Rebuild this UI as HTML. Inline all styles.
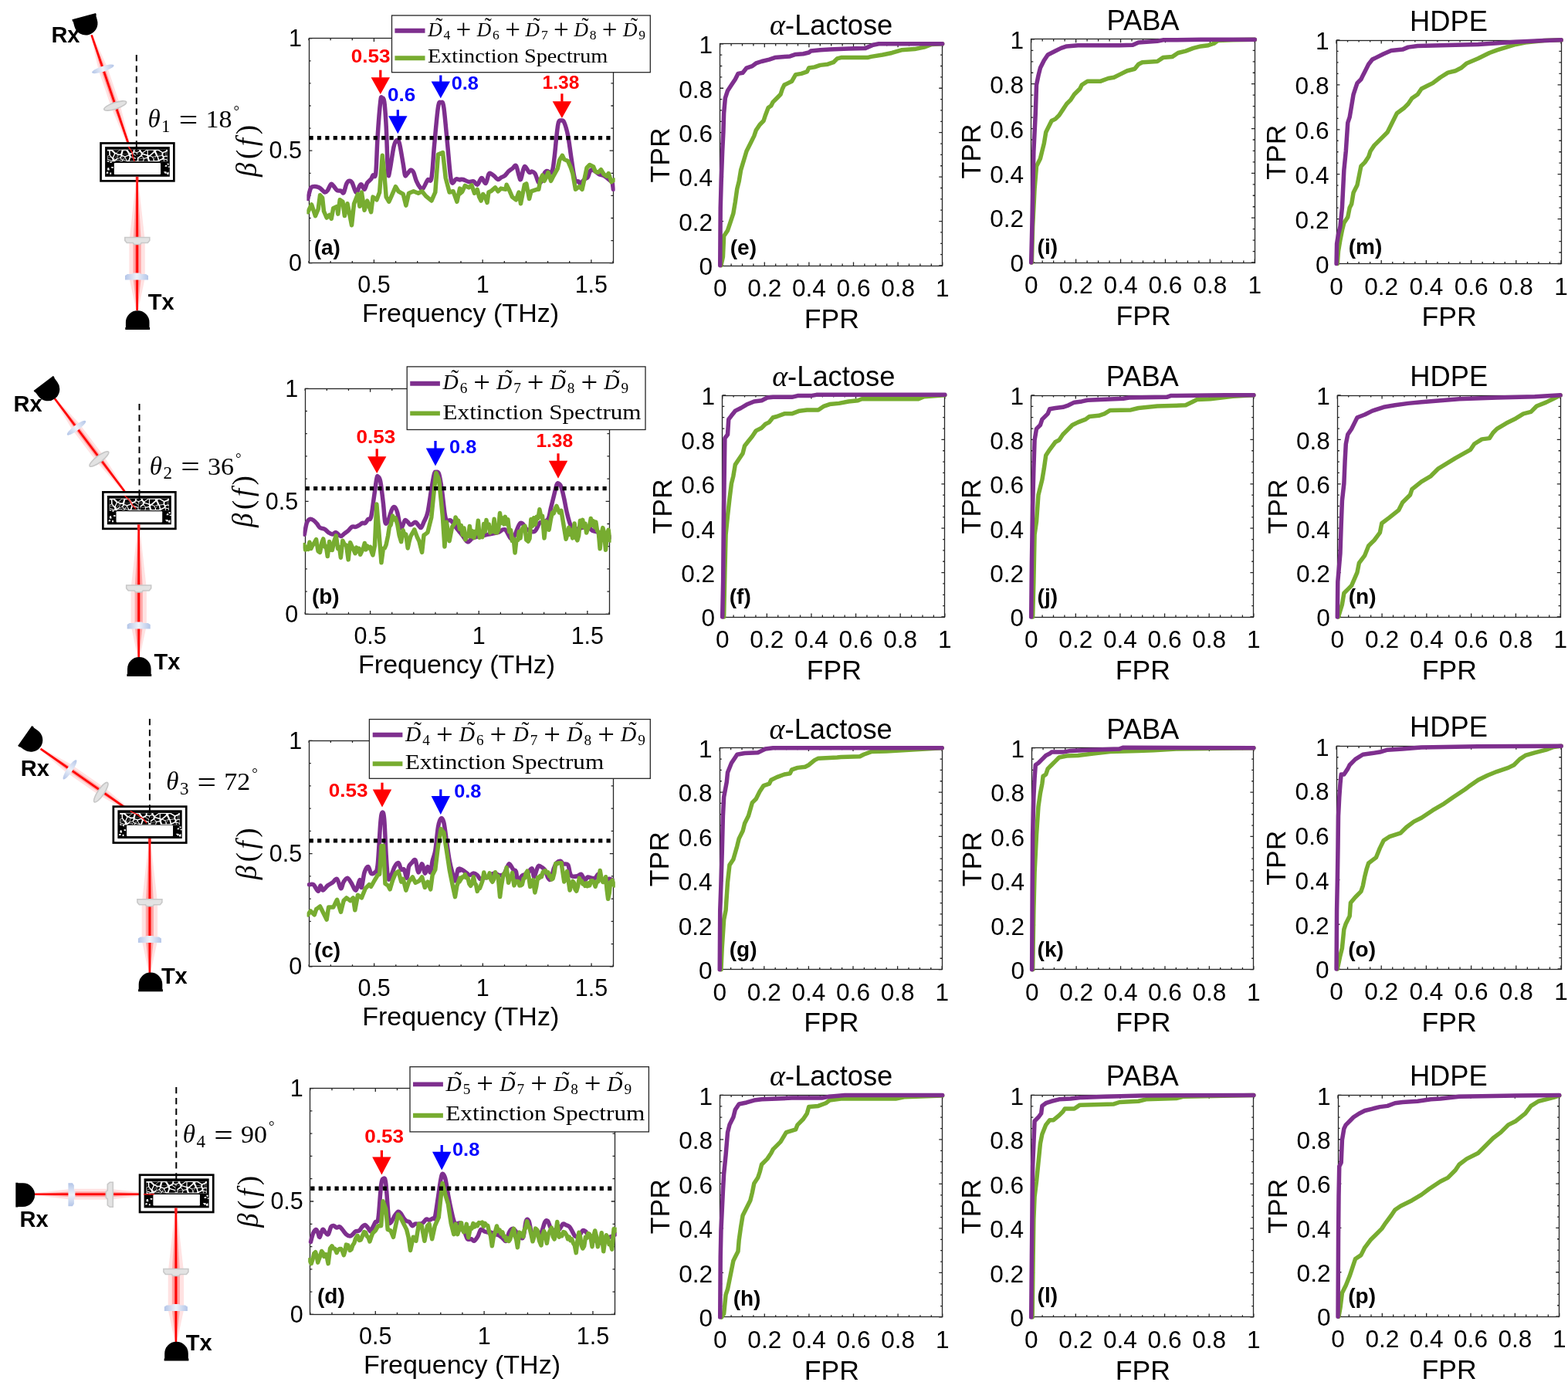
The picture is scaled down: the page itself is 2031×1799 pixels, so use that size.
<!DOCTYPE html>
<html><head><meta charset="utf-8"><title>Figure</title><style>
html,body{margin:0;padding:0;background:#fff;}
svg{display:block;}
.tk{font-family:'Liberation Sans', Arial, Helvetica, sans-serif;font-size:30.5px;fill:#000;}
.tk2{font-family:'Liberation Sans', Arial, Helvetica, sans-serif;font-size:31.6px;fill:#000;}
.lb2{font-family:'Liberation Sans', Arial, Helvetica, sans-serif;font-size:35.6px;fill:#000;}
.lb{font-family:'Liberation Sans', Arial, Helvetica, sans-serif;font-size:34.0px;fill:#000;}
.tt{font-family:'Liberation Sans', Arial, Helvetica, sans-serif;font-size:36.3px;fill:#000;}
.pl{font-family:'Liberation Sans', Arial, Helvetica, sans-serif;font-size:28px;font-weight:bold;fill:#000;}
.an{font-family:'Liberation Sans', Arial, Helvetica, sans-serif;font-size:24.3px;font-weight:bold;}
.rx{font-family:'Liberation Sans', Arial, Helvetica, sans-serif;font-size:29px;font-weight:bold;fill:#000;}
.mi{font-family:'Liberation Serif', 'Times New Roman', serif;font-style:italic;fill:#000;}
.lg{font-family:'Liberation Serif', 'Times New Roman', serif;fill:#000;}
.it{font-style:italic;}
.rm{font-style:normal;}
.th{font-family:'Liberation Serif', 'Times New Roman', serif;fill:#000;}
</style></head><body>
<svg width="2031" height="1799" viewBox="0 0 2031 1799">
<defs><linearGradient id="lensblue" x1="0" y1="0" x2="1" y2="0"><stop offset="0" stop-color="#b3c5e8"/><stop offset="0.5" stop-color="#eef2fa"/><stop offset="1" stop-color="#b3c5e8"/></linearGradient></defs>
<rect x="0" y="0" width="2031" height="1799" fill="#fff"/>
<line x1="176.8" y1="71" x2="176.8" y2="209" stroke="#000" stroke-width="2" stroke-dasharray="8.3 5.6"/>
<polygon points="117.37,45.72 127.62,90.63 144.28,139.83 165.9,190.58 169.3,189.42 155.64,135.98 138.98,86.79 119.83,44.88" fill="#ffe2e2" fill-opacity="1.0"/>
<polygon points="117.98,45.51 130.46,89.67 147.12,138.87 166.75,190.29 168.45,189.71 152.8,136.95 136.14,87.75 119.22,45.09" fill="#ffa8a8" fill-opacity="1.0"/>
<polygon points="118.3,45.4 131.94,89.17 148.6,138.37 167.19,190.14 168.01,189.86 151.32,137.45 134.66,88.25 118.9,45.2" fill="#ff7474" fill-opacity="1.0"/>
<line x1="118.6" y1="45.3" x2="167.6" y2="190" stroke="#ff0000" stroke-width="2.6"/>
<ellipse cx="0" cy="0" rx="15" ry="3.6" transform="translate(133.3 89.3) rotate(-18.5)" fill="url(#lensblue)"/>
<ellipse cx="0" cy="0" rx="15.2" ry="4.1" transform="translate(149.2 137) rotate(-18.5)" fill="#e2e2e2" stroke="#c6c6c6" stroke-width="1.6"/>
<polygon points="176,235 167.4,311.82 167.4,360.25 176.4,402 178.8,402 187.8,360.25 187.8,311.82 179.2,235" fill="#ffe2e2" fill-opacity="1.0"/>
<polygon points="176.8,235 172.5,311.82 172.5,360.25 177,402 178.2,402 182.7,360.25 182.7,311.82 178.4,235" fill="#ffa8a8" fill-opacity="1.0"/>
<polygon points="177.22,235 175.2,311.82 175.2,360.25 177.31,402 177.89,402 180,360.25 180,311.82 177.98,235" fill="#ff7474" fill-opacity="1.0"/>
<line x1="177.6" y1="235" x2="177.6" y2="402" stroke="#ff0000" stroke-width="2.6"/>
<path d="M-16 -4.5H16V-0.5L13.5 2.5H5.5L4 4.5H-4L-5.5 2.5H-13.5L-16 -0.5Z" transform="translate(177.8 312) rotate(0)" fill="#e3e3e3" stroke="#c9c9c9" stroke-width="1.6"/>
<path d="M-15 -1.5L-12 -3.5H-5.5L-4.5 -5H4.5L5.5 -3.5H12L15 -1.5V4H-15Z" transform="translate(177 358.6) rotate(0)" fill="url(#lensblue)"/>
<rect x="130.55" y="185.45" width="94.8" height="48.9" fill="#fff" stroke="#000" stroke-width="2.7"/>
<rect x="136.1" y="190.1" width="83.7" height="38.7" fill="#000"/>
<rect x="138.9" y="193.7" width="78.1" height="15.5" fill="#fff"/>
<path d="M156.78 206.38L157.62 206.98L158.1 207.41L157.39 208.77L156.79 208.77L155.05 207.7ZM209.76 198.05L204.64 195.04L202.39 195.04L202.17 196.77L203.48 199.23L209.48 199.3ZM155.84 204.83L156.47 206.09L154.73 207.41L150.57 207.22L152.19 206.07ZM213.76 195.64L215.35 194.59L215.35 193.87L205.61 193.87L210.73 196.88ZM174.37 196.36L174.55 194.13L180.14 194.13L180.36 195.77L177.11 197.05ZM184.89 200.2L190.01 201.7L190.76 202.39L190.3 203.86L186.71 204.64L183.98 201.92ZM201.39 201.94L201.88 201.62L201.35 200.03L200.04 197.56L195.14 201.77L197.97 203.11ZM182.9 199.24L177.95 200.02L177.51 201.73L178.29 203.89L182.08 201.21L182.99 199.49ZM158.64 199.23L159.92 195.05L163.36 195.05L166.43 199.46L166.42 199.49ZM156.09 201.04L153.58 201.02L151.8 205.27L155.45 204.03L156.52 201.83ZM145.84 203.72L144.7 202.9L142.94 200.65L142.71 195.47L144.31 195.47L147.98 199.01ZM197.41 203.95L194.58 202.6L193.33 202.96L192.87 204.43L194.2 208.14L198.58 208.14L198.49 206.4ZM169.35 200.22L169.36 200.19L171.9 199.32L175.94 202.13L176.73 204.29L176.55 204.73L169.99 202.63L169.2 200.97ZM152.98 200.85L152.23 200.63L148.14 206.06L148.34 206.74L149.59 206.25L151.21 205.1ZM206.16 206.87L204.96 202.67L209.68 202L210.71 203.22L210.39 205ZM163.49 208.55L159.47 207.74L159.16 207.81L158.45 209.16L164.4 209.16ZM169.44 203.85L176 205.94L176.04 206.19L176.02 208.47L167.78 208.47ZM158.29 200.19L158.72 200.99L158.83 201.04L162 202.16L166.25 200.54L166.4 199.8L158.62 199.55ZM187.06 205.77L190.64 204.99L191.98 208.7L186.08 208.7L186.91 205.94ZM185.91 205.73L185.08 208.49L179.39 208.49L179.4 206.2ZM182.63 195.55L184.47 197.42L189.39 193.92L182.41 193.92ZM158.22 202.27L159.26 204.82L160.02 205.47L161.43 204.34L161.38 203.39ZM161.81 204.67L163.71 207.79L159.68 206.98L160.4 205.81ZM157.97 202.34L159.01 204.89L158.26 206.35L157.43 205.75L156.79 204.49L157.86 202.29ZM166.89 201.74L167.68 203.4L166.02 208.03L165.48 208.03L164.58 207.42L162.68 204.3L162.64 203.35ZM147.12 204.13L149.27 199.42L150.09 199.57L151.95 200.47L147.86 205.9ZM150.53 197.9L154.72 194.2L146.03 194.2L149.71 197.74ZM216.27 209.03L213.06 209.03L212.53 206.58L216.27 207.52ZM214.6 197.09L214.64 201.67L212.34 202.24L211.31 201.03L211.3 199.59L211.58 198.33ZM156.1 199.4L153.59 199.39L152.84 199.17L150.99 198.27L155.18 194.57L157.72 194.57L156.44 198.75ZM145.62 207.3L145.42 206.61L144.69 204.84L143.55 204.02L139.39 204.2L139.39 205.8L145.33 207.98ZM150.53 207.92L149.28 208.42L148.99 209.1L148.98 209.18L156.44 209.18L154.69 208.11ZM191.8 200.33L192.55 201.03L193.8 200.67L198.7 196.46L198.92 194.73L191.85 194.73ZM201.67 202.51L199.33 206.14L198.24 203.69ZM139.37 202.49L141.77 201.3L143.52 203.55L139.37 203.72ZM183.28 202.41L186.02 205.13L185.87 205.3L179.36 205.77L179.31 205.53L179.49 205.09ZM144.87 208.87L138.93 206.69L138.93 208.95L144.86 208.95ZM180.91 196.75L182.76 198.62L182.84 198.97L177.89 199.75L177.66 198.03ZM185.28 198.22L185.36 198.58L185.46 198.83L190.58 200.33L190.63 194.72L190.2 194.72ZM215.16 201.67L216.71 201.75L216.71 196.04L215.12 197.09ZM159.12 204.93L158.37 206.39L158.86 206.82L159.16 206.76L159.88 205.58ZM204.59 207.19L203.39 202.98L202.62 202.4L202.13 202.73L199.79 206.35L199.88 208.09L204.03 208.09ZM209.47 199.6L203.47 199.53L204 201.12L204.77 201.7L209.49 201.04ZM211.69 206.7L211.26 206.38L207.03 208.26L206.47 209.16L212.22 209.16ZM138.94 201.9L138.94 195.52L141.12 195.52L141.35 200.7ZM173.99 197.43L176.73 198.12L176.96 199.84L176.52 201.55L172.47 198.73ZM212.88 205.58L216.62 206.52L216.62 202.98L215.07 202.91L212.77 203.48L212.45 205.26ZM168.5 198.44L165.44 194.03L172.73 194.03L172.55 196.25L171.04 197.56Z" fill="#000"/>
<path d="M139.53 217.19h1.74v1.91h-2.25zM138.49 208.32h2.67v1.39h-1.47zM144.07 215.95h2.67v1.71h-2.28zM139 218.7h2.74v1.78h-2.48zM142.13 209.17h2.52v1.89h-1.6zM138.29 222.55h1.95v2.08h-2.76zM142.38 223.48h1.79v2.2h-1.89zM217.41 222.78h1.19v1.2h-1.43zM217.59 215.38h2.25v1.45h-2.01zM214.12 213.96h2.17v1.88h-2.81zM215.89 223.61h2.71v2.49h-2.34zM212.78 222.47h2.93v2.36h-2.14zM216.08 211.63h2.66v1.86h-1.57zM212.18 222.36h2.98v1.13h-2.6z" fill="#fff"/>
<rect x="147.82" y="211" width="60.26" height="14.9" rx="1" fill="#fff"/>
<polyline points="166.5,190 171,197 172,203 174,209" fill="none" stroke="#ff1a1a" stroke-width="1.4"/>
<line x1="176.8" y1="186" x2="176.8" y2="209" stroke="#000" stroke-width="2" stroke-dasharray="8.3 5.6"/>
<line x1="177.6" y1="228.8" x2="177.6" y2="236" stroke="#ff2020" stroke-width="3.6"/>
<path d="M-15.3 0A15.3 15.3 0 0 1 15.3 0V6.5H15.9V9.5H-15.9V6.5H-15.3Z" transform="translate(111.2 30.2) rotate(165)" fill="#000"/>
<path d="M-15.3 0A15.3 15.3 0 0 1 15.3 0V6.5H15.9V9.5H-15.9V6.5H-15.3Z" transform="translate(178.2 417.6) rotate(0)" fill="#000"/>
<text x="66.4" y="54.9" class="rx">Rx</text>
<text x="191.8" y="401.2" class="rx">Tx</text>
<text x="191.4" y="165" class="th it" font-size="33">&#952;</text>
<text x="209.1" y="170.5" class="th" font-size="23">1</text>
<text x="231.8" y="167.8" class="th" font-size="37" textLength="24.5" lengthAdjust="spacingAndGlyphs">=</text>
<text x="266.5" y="165" class="th" font-size="32.5" textLength="34" lengthAdjust="spacingAndGlyphs">18</text>
<text x="302.5" y="150.2" class="th" font-size="19">&#176;</text>
<line x1="180.5" y1="523" x2="180.5" y2="660" stroke="#000" stroke-width="2" stroke-dasharray="8.3 5.6"/>
<polygon points="69.86,516.98 93.26,555.9 124.03,596.8 159.96,637.58 162.84,635.42 133.61,589.58 102.84,548.68 71.94,515.42" fill="#ffe2e2" fill-opacity="1.0"/>
<polygon points="70.38,516.59 95.65,554.09 126.42,595 160.68,637.04 162.12,635.96 131.22,591.39 100.45,550.49 71.42,515.81" fill="#ffa8a8" fill-opacity="1.0"/>
<polygon points="70.65,516.39 96.9,553.16 127.67,594.06 161.05,636.76 161.75,636.24 129.97,592.33 99.2,551.42 71.15,516.01" fill="#ff7474" fill-opacity="1.0"/>
<line x1="70.9" y1="516.2" x2="161.4" y2="636.5" stroke="#ff0000" stroke-width="2.6"/>
<ellipse cx="0" cy="0" rx="15" ry="3.6" transform="translate(99 554.2) rotate(-37)" fill="url(#lensblue)"/>
<ellipse cx="0" cy="0" rx="15.2" ry="4.1" transform="translate(128.4 594.5) rotate(-37)" fill="#e2e2e2" stroke="#c6c6c6" stroke-width="1.6"/>
<polygon points="178.1,686 169.5,762.13 169.5,810.12 178.5,851.5 180.9,851.5 189.9,810.12 189.9,762.13 181.3,686" fill="#ffe2e2" fill-opacity="1.0"/>
<polygon points="178.9,686 174.6,762.13 174.6,810.12 179.1,851.5 180.3,851.5 184.8,810.12 184.8,762.13 180.5,686" fill="#ffa8a8" fill-opacity="1.0"/>
<polygon points="179.32,686 177.3,762.13 177.3,810.12 179.41,851.5 179.99,851.5 182.1,810.12 182.1,762.13 180.08,686" fill="#ff7474" fill-opacity="1.0"/>
<line x1="179.7" y1="686" x2="179.7" y2="851.5" stroke="#ff0000" stroke-width="2.6"/>
<path d="M-16 -4.5H16V-0.5L13.5 2.5H5.5L4 4.5H-4L-5.5 2.5H-13.5L-16 -0.5Z" transform="translate(179.7 762.5) rotate(0)" fill="#e3e3e3" stroke="#c9c9c9" stroke-width="1.6"/>
<path d="M-15 -1.5L-12 -3.5H-5.5L-4.5 -5H4.5L5.5 -3.5H12L15 -1.5V4H-15Z" transform="translate(179.7 810.5) rotate(0)" fill="url(#lensblue)"/>
<rect x="133.35" y="637.35" width="94" height="47.5" fill="#fff" stroke="#000" stroke-width="2.7"/>
<rect x="138.9" y="642" width="82.9" height="37.3" fill="#000"/>
<rect x="141.7" y="645.6" width="77.3" height="15.5" fill="#fff"/>
<path d="M159.4 658.28L160.23 658.88L160.7 659.31L160 660.67L159.41 660.67L157.68 659.6ZM211.83 649.95L206.76 646.94L204.54 646.94L204.32 648.67L205.62 651.13L211.56 651.2ZM158.46 656.73L159.09 657.99L157.37 659.31L153.25 659.12L154.85 657.97ZM215.79 647.54L217.36 646.49L217.36 645.77L207.73 645.77L212.8 648.78ZM176.81 648.26L176.98 646.03L182.52 646.03L182.74 647.67L179.52 648.95ZM187.22 652.1L192.29 653.6L193.02 654.29L192.57 655.76L189.02 656.54L186.31 653.82ZM203.55 653.84L204.03 653.52L203.51 651.93L202.22 649.46L197.36 653.67L200.16 655.01ZM185.25 651.14L180.35 651.92L179.92 653.63L180.69 655.79L184.44 653.11L185.34 651.39ZM161.24 651.13L162.51 646.95L165.91 646.95L168.95 651.36L168.94 651.39ZM158.71 652.94L156.23 652.92L154.47 657.17L158.08 655.93L159.14 653.73ZM148.57 655.62L147.44 654.8L145.7 652.55L145.47 647.37L147.05 647.37L150.69 650.91ZM199.61 655.85L196.81 654.5L195.57 654.86L195.12 656.33L196.44 660.04L200.77 660.04L200.68 658.3ZM171.84 652.12L171.85 652.09L174.36 651.22L178.37 654.03L179.14 656.19L178.96 656.63L172.47 654.53L171.69 652.87ZM155.64 652.75L154.9 652.53L150.85 657.96L151.05 658.64L152.28 658.15L153.88 657ZM208.27 658.77L207.08 654.57L211.75 653.9L212.77 655.12L212.46 656.9ZM166.04 660.45L162.06 659.64L161.75 659.71L161.05 661.06L166.94 661.06ZM171.93 655.75L178.42 657.84L178.46 658.09L178.44 660.37L170.28 660.37ZM160.89 652.09L161.32 652.89L161.43 652.94L164.56 654.06L168.77 652.44L168.92 651.7L161.22 651.45ZM189.36 657.67L192.91 656.89L194.23 660.6L188.39 660.6L189.22 657.84ZM188.23 657.63L187.41 660.39L181.77 660.39L181.79 658.1ZM184.98 647.45L186.81 649.32L191.67 645.82L184.76 645.82ZM160.82 654.17L161.85 656.72L162.6 657.37L163.99 656.24L163.95 655.29ZM164.37 656.57L166.25 659.69L162.27 658.88L162.98 657.71ZM160.57 654.24L161.6 656.79L160.86 658.25L160.04 657.65L159.4 656.39L160.46 654.19ZM169.41 653.64L170.18 655.3L168.54 659.93L168.01 659.93L167.12 659.32L165.24 656.2L165.19 655.25ZM149.84 656.03L151.96 651.32L152.78 651.47L154.61 652.37L150.56 657.8ZM153.21 649.8L157.36 646.1L148.76 646.1L152.4 649.64ZM218.28 660.93L215.1 660.93L214.57 658.48L218.28 659.42ZM216.63 648.99L216.67 653.57L214.39 654.14L213.37 652.93L213.36 651.49L213.63 650.23ZM158.73 651.3L156.24 651.29L155.5 651.07L153.67 650.17L157.81 646.47L160.33 646.47L159.06 650.65ZM148.35 659.2L148.16 658.51L147.43 656.74L146.3 655.92L142.19 656.1L142.19 657.7L148.06 659.88ZM153.21 659.82L151.97 660.32L151.68 661L151.68 661.08L159.06 661.08L157.33 660.01ZM194.06 652.23L194.8 652.93L196.03 652.57L200.89 648.36L201.1 646.63L194.11 646.63ZM203.82 654.41L201.51 658.04L200.44 655.59ZM142.16 654.39L144.54 653.2L146.28 655.45L142.16 655.62ZM185.63 654.31L188.34 657.03L188.19 657.2L181.74 657.67L181.7 657.43L181.88 656.99ZM147.61 660.77L141.73 658.59L141.73 660.85L147.6 660.85ZM183.28 648.65L185.11 650.52L185.19 650.87L180.29 651.65L180.07 649.93ZM187.61 650.12L187.68 650.48L187.78 650.73L192.85 652.23L192.9 646.62L192.47 646.62ZM217.18 653.57L218.71 653.65L218.71 647.94L217.14 648.99ZM161.71 656.83L160.97 658.29L161.45 658.72L161.75 658.66L162.46 657.48ZM206.72 659.09L205.53 654.88L204.77 654.3L204.28 654.63L201.97 658.25L202.06 659.99L206.16 659.99ZM211.55 651.5L205.61 651.43L206.13 653.02L206.89 653.6L211.56 652.94ZM213.75 658.6L213.32 658.28L209.13 660.16L208.58 661.06L214.27 661.06ZM141.74 653.8L141.74 647.42L143.89 647.42L144.12 652.6ZM176.43 649.33L179.14 650.02L179.37 651.74L178.93 653.45L174.93 650.63ZM214.93 657.48L218.63 658.42L218.63 654.88L217.09 654.81L214.81 655.38L214.5 657.16ZM171 650.34L167.97 645.93L175.18 645.93L175.01 648.15L173.51 649.46Z" fill="#000"/>
<path d="M142.33 668.33h1.74v1.91h-2.25zM141.29 660.2h2.67v1.39h-1.47zM146.87 667.2h2.67v1.71h-2.28zM141.8 669.71h2.74v1.78h-2.48zM144.93 660.98h2.52v1.89h-1.6zM141.09 673.24h1.95v2.08h-2.76zM145.18 674.09h1.79v2.2h-1.89zM219.41 673.45h1.19v1.2h-1.43zM219.59 666.67h2.25v1.45h-2.01zM216.12 665.37h2.17v1.88h-2.81zM217.89 674.21h2.71v2.49h-2.34zM214.78 673.17h2.93v2.36h-2.14zM218.08 663.23h2.66v1.86h-1.57zM214.18 673.07h2.98v1.13h-2.6z" fill="#fff"/>
<rect x="150.51" y="662.14" width="59.69" height="14.26" rx="1" fill="#fff"/>
<polyline points="161.4,642 168,648 172,655 176,659" fill="none" stroke="#ff1a1a" stroke-width="1.4"/>
<line x1="180.5" y1="638" x2="180.5" y2="660" stroke="#000" stroke-width="2" stroke-dasharray="8.3 5.6"/>
<line x1="179.7" y1="679.3" x2="179.7" y2="686.5" stroke="#ff2020" stroke-width="3.6"/>
<path d="M-15.3 0A15.3 15.3 0 0 1 15.3 0V6.5H15.9V9.5H-15.9V6.5H-15.3Z" transform="translate(62 504) rotate(143)" fill="#000"/>
<path d="M-15.3 0A15.3 15.3 0 0 1 15.3 0V6.5H15.9V9.5H-15.9V6.5H-15.3Z" transform="translate(180.3 866.4) rotate(0)" fill="#000"/>
<text x="17.6" y="533.4" class="rx">Rx</text>
<text x="199.6" y="867.2" class="rx">Tx</text>
<text x="193.8" y="614.5" class="th it" font-size="33">&#952;</text>
<text x="211.5" y="620" class="th" font-size="23">2</text>
<text x="234.2" y="617.3" class="th" font-size="37" textLength="24.5" lengthAdjust="spacingAndGlyphs">=</text>
<text x="268.9" y="614.5" class="th" font-size="32.5" textLength="34" lengthAdjust="spacingAndGlyphs">36</text>
<text x="304.9" y="599.7" class="th" font-size="19">&#176;</text>
<line x1="193.9" y1="931" x2="193.9" y2="1066" stroke="#000" stroke-width="2" stroke-dasharray="8.3 5.6"/>
<polygon points="51.86,970.97 84.01,999.04 128.12,1029.7 167.67,1052.08 169.73,1049.12 134.97,1019.85 90.85,989.18 53.34,968.83" fill="#ffe2e2" fill-opacity="1.0"/>
<polygon points="52.23,970.43 85.72,996.57 129.84,1027.24 168.19,1051.34 169.21,1049.86 133.26,1022.31 89.14,991.65 52.97,969.37" fill="#ffa8a8" fill-opacity="1.0"/>
<polygon points="52.42,970.16 86.61,995.29 130.73,1025.96 168.45,1050.95 168.95,1050.25 132.37,1023.59 88.25,992.93 52.78,969.64" fill="#ff7474" fill-opacity="1.0"/>
<line x1="52.6" y1="969.9" x2="168.7" y2="1050.6" stroke="#ff0000" stroke-width="2.6"/>
<ellipse cx="0" cy="0" rx="15" ry="3.6" transform="translate(90.5 996.8) rotate(-56)" fill="url(#lensblue)"/>
<ellipse cx="0" cy="0" rx="15.2" ry="4.1" transform="translate(130.8 1026.2) rotate(-56)" fill="#e2e2e2" stroke="#c6c6c6" stroke-width="1.6"/>
<polygon points="192.3,1092.5 183.7,1169.55 183.7,1218.12 192.7,1260 195.1,1260 204.1,1218.12 204.1,1169.55 195.5,1092.5" fill="#ffe2e2" fill-opacity="1.0"/>
<polygon points="193.1,1092.5 188.8,1169.55 188.8,1218.12 193.3,1260 194.5,1260 199,1218.12 199,1169.55 194.7,1092.5" fill="#ffa8a8" fill-opacity="1.0"/>
<polygon points="193.52,1092.5 191.5,1169.55 191.5,1218.12 193.61,1260 194.19,1260 196.3,1218.12 196.3,1169.55 194.28,1092.5" fill="#ff7474" fill-opacity="1.0"/>
<line x1="193.9" y1="1092.5" x2="193.9" y2="1260" stroke="#ff0000" stroke-width="2.6"/>
<path d="M-16 -4.5H16V-0.5L13.5 2.5H5.5L4 4.5H-4L-5.5 2.5H-13.5L-16 -0.5Z" transform="translate(193.9 1169.2) rotate(0)" fill="#e3e3e3" stroke="#c9c9c9" stroke-width="1.6"/>
<path d="M-15 -1.5L-12 -3.5H-5.5L-4.5 -5H4.5L5.5 -3.5H12L15 -1.5V4H-15Z" transform="translate(193.9 1216.9) rotate(0)" fill="url(#lensblue)"/>
<rect x="146.85" y="1044.65" width="94.4" height="46.9" fill="#fff" stroke="#000" stroke-width="2.7"/>
<rect x="152.4" y="1049.3" width="83.3" height="36.7" fill="#000"/>
<rect x="155.2" y="1052.9" width="77.7" height="15.5" fill="#fff"/>
<path d="M172.99 1065.58L173.82 1066.18L174.3 1066.61L173.6 1067.97L173 1067.97L171.26 1066.9ZM225.7 1057.25L220.6 1054.24L218.36 1054.24L218.15 1055.97L219.45 1058.43L225.42 1058.5ZM172.05 1064.03L172.68 1065.29L170.95 1066.61L166.81 1066.42L168.42 1065.27ZM229.67 1054.84L231.26 1053.79L231.26 1053.07L221.57 1053.07L226.67 1056.08ZM190.49 1055.56L190.66 1053.33L196.23 1053.33L196.45 1054.97L193.22 1056.25ZM200.95 1059.4L206.05 1060.9L206.79 1061.59L206.33 1063.06L202.77 1063.84L200.04 1061.12ZM217.37 1061.14L217.85 1060.82L217.33 1059.23L216.03 1056.76L211.15 1060.97L213.97 1062.31ZM198.97 1058.44L194.05 1059.22L193.61 1060.93L194.39 1063.09L198.16 1060.41L199.07 1058.69ZM174.84 1058.43L176.11 1054.25L179.54 1054.25L182.59 1058.66L182.58 1058.69ZM172.3 1060.24L169.8 1060.22L168.04 1064.47L171.66 1063.23L172.73 1061.03ZM162.1 1062.92L160.97 1062.1L159.22 1059.85L158.99 1054.67L160.58 1054.67L164.24 1058.21ZM213.41 1063.15L210.6 1061.8L209.35 1062.16L208.89 1063.63L210.22 1067.34L214.58 1067.34L214.49 1065.6ZM185.5 1059.42L185.51 1059.39L188.03 1058.52L192.06 1061.33L192.83 1063.49L192.65 1063.93L186.13 1061.83L185.35 1060.17ZM169.21 1060.05L168.46 1059.83L164.4 1065.26L164.59 1065.94L165.83 1065.45L167.44 1064.3ZM222.12 1066.07L220.92 1061.87L225.62 1061.2L226.64 1062.42L226.33 1064.2ZM179.67 1067.75L175.66 1066.94L175.36 1067.01L174.65 1068.36L180.57 1068.36ZM185.58 1063.05L192.11 1065.14L192.15 1065.39L192.13 1067.67L183.93 1067.67ZM174.49 1059.39L174.92 1060.19L175.03 1060.24L178.18 1061.36L182.41 1059.74L182.56 1059L174.82 1058.75ZM203.11 1064.97L206.68 1064.19L208.01 1067.9L202.13 1067.9L202.96 1065.14ZM201.97 1064.93L201.14 1067.69L195.48 1067.69L195.49 1065.4ZM198.7 1054.75L200.54 1056.62L205.43 1053.12L198.48 1053.12ZM174.42 1061.47L175.45 1064.02L176.21 1064.67L177.61 1063.54L177.57 1062.59ZM177.99 1063.87L179.88 1066.99L175.87 1066.18L176.59 1065.01ZM174.17 1061.54L175.21 1064.09L174.46 1065.55L173.63 1064.95L173 1063.69L174.06 1061.49ZM183.05 1060.94L183.83 1062.6L182.18 1067.23L181.65 1067.23L180.75 1066.62L178.86 1063.5L178.82 1062.55ZM163.38 1063.33L165.52 1058.62L166.33 1058.77L168.18 1059.67L164.11 1065.1ZM166.77 1057.1L170.94 1053.4L162.3 1053.4L165.95 1056.94ZM232.17 1068.23L228.98 1068.23L228.45 1065.78L232.17 1066.72ZM230.52 1056.29L230.55 1060.87L228.26 1061.44L227.24 1060.23L227.23 1058.79L227.51 1057.53ZM172.32 1058.6L169.82 1058.59L169.07 1058.37L167.23 1057.47L171.4 1053.77L173.92 1053.77L172.65 1057.95ZM161.89 1066.5L161.69 1065.81L160.96 1064.04L159.83 1063.22L155.69 1063.4L155.69 1065L161.59 1067.18ZM166.77 1067.12L165.53 1067.62L165.24 1068.3L165.23 1068.38L172.65 1068.38L170.91 1067.31ZM207.83 1059.53L208.57 1060.23L209.82 1059.87L214.7 1055.66L214.91 1053.93L207.88 1053.93ZM217.64 1061.71L215.32 1065.34L214.24 1062.89ZM155.66 1061.69L158.05 1060.5L159.8 1062.75L155.66 1062.92ZM199.36 1061.61L202.08 1064.33L201.93 1064.5L195.45 1064.97L195.41 1064.73L195.59 1064.29ZM161.14 1068.07L155.23 1065.89L155.23 1068.15L161.13 1068.15ZM197 1055.95L198.83 1057.82L198.91 1058.17L193.99 1058.95L193.76 1057.23ZM201.34 1057.42L201.42 1057.78L201.52 1058.03L206.61 1059.53L206.67 1053.92L206.23 1053.92ZM231.07 1060.87L232.61 1060.95L232.61 1055.24L231.03 1056.29ZM175.32 1064.13L174.57 1065.59L175.05 1066.02L175.36 1065.96L176.07 1064.78ZM220.55 1066.39L219.36 1062.18L218.59 1061.6L218.11 1061.93L215.78 1065.55L215.87 1067.29L220 1067.29ZM225.41 1058.8L219.44 1058.73L219.97 1060.32L220.73 1060.9L225.43 1060.24ZM227.62 1065.9L227.19 1065.58L222.98 1067.46L222.43 1068.36L228.15 1068.36ZM155.24 1061.1L155.24 1054.72L157.41 1054.72L157.63 1059.9ZM190.11 1056.63L192.83 1057.32L193.06 1059.04L192.62 1060.75L188.6 1057.93ZM228.81 1064.78L232.53 1065.72L232.53 1062.18L230.98 1062.11L228.69 1062.68L228.38 1064.46ZM184.65 1057.64L181.6 1053.23L188.86 1053.23L188.68 1055.45L187.17 1056.76Z" fill="#000"/>
<path d="M155.83 1075.3h1.74v1.91h-2.25zM154.79 1067.49h2.67v1.39h-1.47zM160.37 1074.21h2.67v1.71h-2.28zM155.3 1076.63h2.74v1.78h-2.48zM158.43 1068.24h2.52v1.89h-1.6zM154.59 1080.02h1.95v2.08h-2.76zM158.68 1080.84h1.79v2.2h-1.89zM233.31 1080.22h1.19v1.2h-1.43zM233.49 1073.71h2.25v1.45h-2.01zM230.02 1072.46h2.17v1.88h-2.81zM231.79 1080.96h2.71v2.49h-2.34zM228.68 1079.95h2.93v2.36h-2.14zM231.98 1070.4h2.66v1.86h-1.57zM228.08 1079.85h2.98v1.13h-2.6z" fill="#fff"/>
<rect x="164.06" y="1069.12" width="59.98" height="13.98" rx="1" fill="#fff"/>
<polyline points="168.7,1050.6 178,1055 186,1061 190,1066" fill="none" stroke="#ff1a1a" stroke-width="1.4"/>
<line x1="193.9" y1="1045" x2="193.9" y2="1066" stroke="#000" stroke-width="2" stroke-dasharray="8.3 5.6"/>
<line x1="193.9" y1="1086" x2="193.9" y2="1093.2" stroke="#ff2020" stroke-width="3.6"/>
<path d="M-15.3 0A15.3 15.3 0 0 1 15.3 0V6.5H15.9V9.5H-15.9V6.5H-15.3Z" transform="translate(40 958.5) rotate(125)" fill="#000"/>
<path d="M-15.3 0A15.3 15.3 0 0 1 15.3 0V6.5H15.9V9.5H-15.9V6.5H-15.3Z" transform="translate(195 1274.8) rotate(0)" fill="#000"/>
<text x="26.7" y="1005.4" class="rx">Rx</text>
<text x="208.9" y="1274.4" class="rx">Tx</text>
<text x="215.2" y="1023" class="th it" font-size="33">&#952;</text>
<text x="232.9" y="1028.5" class="th" font-size="23">3</text>
<text x="255.6" y="1025.8" class="th" font-size="37" textLength="24.5" lengthAdjust="spacingAndGlyphs">=</text>
<text x="290.3" y="1023" class="th" font-size="32.5" textLength="34" lengthAdjust="spacingAndGlyphs">72</text>
<text x="326.3" y="1008.2" class="th" font-size="19">&#176;</text>
<line x1="228.3" y1="1408" x2="228.3" y2="1545" stroke="#000" stroke-width="2" stroke-dasharray="8.3 5.6"/>
<polygon points="44.5,1548 92.52,1553.8 141.99,1553.8 190,1548.3 190,1545.3 141.99,1539.8 92.52,1539.8 44.5,1545.6" fill="#ffe2e2" fill-opacity="1.0"/>
<polygon points="44.5,1547.4 92.52,1550.3 141.99,1550.3 190,1547.55 190,1546.05 141.99,1543.3 92.52,1543.3 44.5,1546.2" fill="#ffa8a8" fill-opacity="1.0"/>
<polygon points="44.5,1547.09 92.52,1548.48 141.99,1548.48 190,1547.16 190,1546.44 141.99,1545.12 92.52,1545.12 44.5,1546.51" fill="#ff7474" fill-opacity="1.0"/>
<line x1="44.5" y1="1546.8" x2="190" y2="1546.8" stroke="#ff0000" stroke-width="2.6"/>
<path d="M-15 -1.5L-12 -3.5H-5.5L-4.5 -5H4.5L5.5 -3.5H12L15 -1.5V4H-15Z" transform="translate(92.4 1547.3) rotate(90)" fill="url(#lensblue)"/>
<path d="M-16 -4.5H16V-0.5L13.5 2.5H5.5L4 4.5H-4L-5.5 2.5H-13.5L-16 -0.5Z" transform="translate(141.8 1547.3) rotate(90)" fill="#e3e3e3" stroke="#c9c9c9" stroke-width="1.6"/>
<polygon points="226.3,1571 217.7,1648.05 217.7,1696.62 226.7,1738.5 229.1,1738.5 238.1,1696.62 238.1,1648.05 229.5,1571" fill="#ffe2e2" fill-opacity="1.0"/>
<polygon points="227.1,1571 222.8,1648.05 222.8,1696.62 227.3,1738.5 228.5,1738.5 233,1696.62 233,1648.05 228.7,1571" fill="#ffa8a8" fill-opacity="1.0"/>
<polygon points="227.52,1571 225.5,1648.05 225.5,1696.62 227.61,1738.5 228.19,1738.5 230.3,1696.62 230.3,1648.05 228.28,1571" fill="#ff7474" fill-opacity="1.0"/>
<line x1="227.9" y1="1571" x2="227.9" y2="1738.5" stroke="#ff0000" stroke-width="2.6"/>
<path d="M-16 -4.5H16V-0.5L13.5 2.5H5.5L4 4.5H-4L-5.5 2.5H-13.5L-16 -0.5Z" transform="translate(227.9 1648) rotate(0)" fill="#e3e3e3" stroke="#c9c9c9" stroke-width="1.6"/>
<path d="M-15 -1.5L-12 -3.5H-5.5L-4.5 -5H4.5L5.5 -3.5H12L15 -1.5V4H-15Z" transform="translate(227.9 1694) rotate(0)" fill="url(#lensblue)"/>
<rect x="181.05" y="1521.75" width="95.2" height="48.2" fill="#fff" stroke="#000" stroke-width="2.7"/>
<rect x="186.6" y="1526.4" width="84.1" height="38" fill="#000"/>
<rect x="189.4" y="1530" width="78.5" height="15.5" fill="#fff"/>
<path d="M207.38 1542.68L208.21 1543.28L208.7 1543.71L207.99 1545.07L207.38 1545.07L205.63 1544ZM260.62 1534.35L255.47 1531.34L253.21 1531.34L253 1533.07L254.31 1535.53L260.34 1535.6ZM206.42 1541.13L207.06 1542.39L205.32 1543.71L201.13 1543.52L202.76 1542.37ZM264.64 1531.94L266.24 1530.89L266.24 1530.17L256.45 1530.17L261.6 1533.18ZM225.05 1532.66L225.23 1530.43L230.85 1530.43L231.07 1532.07L227.81 1533.35ZM235.62 1536.5L240.77 1538L241.52 1538.69L241.06 1540.16L237.46 1540.94L234.71 1538.22ZM252.21 1538.24L252.7 1537.92L252.17 1536.33L250.86 1533.86L245.93 1538.07L248.77 1539.41ZM233.62 1535.54L228.65 1536.32L228.21 1538.03L228.99 1540.19L232.8 1537.51L233.72 1535.79ZM209.24 1535.53L210.53 1531.35L213.99 1531.35L217.07 1535.76L217.06 1535.79ZM206.68 1537.34L204.15 1537.32L202.37 1541.57L206.03 1540.33L207.11 1538.13ZM196.37 1540.02L195.23 1539.2L193.46 1536.95L193.23 1531.77L194.84 1531.77L198.53 1535.31ZM248.21 1540.25L245.37 1538.9L244.11 1539.26L243.65 1540.73L244.99 1544.44L249.39 1544.44L249.3 1542.7ZM220.01 1536.52L220.02 1536.49L222.57 1535.62L226.63 1538.43L227.42 1540.59L227.24 1541.03L220.65 1538.93L219.86 1537.27ZM203.55 1537.15L202.8 1536.93L198.69 1542.36L198.89 1543.04L200.14 1542.55L201.77 1541.4ZM257.01 1543.17L255.8 1538.97L260.54 1538.3L261.58 1539.52L261.26 1541.3ZM214.12 1544.85L210.07 1544.04L209.76 1544.11L209.05 1545.46L215.03 1545.46ZM220.09 1540.15L226.69 1542.24L226.73 1542.49L226.71 1544.77L218.43 1544.77ZM208.89 1536.49L209.32 1537.29L209.43 1537.34L212.62 1538.46L216.89 1536.84L217.04 1536.1L209.22 1535.85ZM237.8 1542.07L241.41 1541.29L242.75 1545L236.82 1545L237.65 1542.24ZM236.65 1542.03L235.82 1544.79L230.09 1544.79L230.11 1542.5ZM233.35 1531.85L235.21 1533.72L240.14 1530.22L233.13 1530.22ZM208.82 1538.57L209.86 1541.12L210.62 1541.77L212.04 1540.64L212 1539.69ZM212.43 1540.97L214.33 1544.09L210.29 1543.28L211.01 1542.11ZM208.57 1538.64L209.61 1541.19L208.86 1542.65L208.02 1542.05L207.38 1540.79L208.45 1538.59ZM217.54 1538.04L218.33 1539.7L216.66 1544.33L216.12 1544.33L215.21 1543.72L213.3 1540.6L213.26 1539.65ZM197.67 1540.43L199.82 1535.72L200.65 1535.87L202.51 1536.77L198.4 1542.2ZM201.09 1534.2L205.3 1530.5L196.57 1530.5L200.26 1534.04ZM267.16 1545.33L263.94 1545.33L263.4 1542.88L267.16 1543.82ZM265.49 1533.39L265.53 1537.97L263.22 1538.54L262.18 1537.33L262.17 1535.89L262.45 1534.63ZM206.69 1535.7L204.17 1535.69L203.42 1535.47L201.55 1534.57L205.76 1530.87L208.32 1530.87L207.03 1535.05ZM196.16 1543.6L195.96 1542.91L195.22 1541.14L194.07 1540.32L189.9 1540.5L189.9 1542.1L195.86 1544.28ZM201.09 1544.22L199.83 1544.72L199.54 1545.4L199.53 1545.48L207.03 1545.48L205.27 1544.41ZM242.57 1536.63L243.32 1537.33L244.58 1536.97L249.51 1532.76L249.73 1531.03L242.62 1531.03ZM252.49 1538.81L250.14 1542.44L249.05 1539.99ZM189.87 1538.79L192.28 1537.6L194.05 1539.85L189.87 1540.02ZM234.01 1538.71L236.76 1541.43L236.61 1541.6L230.06 1542.07L230.02 1541.83L230.2 1541.39ZM195.4 1545.17L189.43 1542.99L189.43 1545.25L195.39 1545.25ZM231.63 1533.05L233.48 1534.92L233.56 1535.27L228.59 1536.05L228.36 1534.33ZM236.02 1534.52L236.1 1534.88L236.19 1535.13L241.34 1536.63L241.4 1531.02L240.96 1531.02ZM266.05 1537.97L267.61 1538.05L267.61 1532.34L266.01 1533.39ZM209.72 1541.23L208.97 1542.69L209.46 1543.12L209.77 1543.06L210.49 1541.88ZM255.43 1543.49L254.22 1539.28L253.45 1538.7L252.96 1539.03L250.61 1542.65L250.7 1544.39L254.87 1544.39ZM260.34 1535.9L254.3 1535.83L254.83 1537.42L255.61 1538L260.35 1537.34ZM262.56 1543L262.13 1542.68L257.88 1544.56L257.32 1545.46L263.1 1545.46ZM189.45 1538.2L189.45 1531.82L191.63 1531.82L191.86 1537ZM224.67 1533.73L227.42 1534.42L227.65 1536.14L227.21 1537.85L223.14 1535.03ZM263.76 1541.88L267.52 1542.82L267.52 1539.28L265.96 1539.21L263.65 1539.78L263.33 1541.56ZM219.16 1534.74L216.07 1530.33L223.4 1530.33L223.23 1532.55L221.7 1533.86Z" fill="#000"/>
<path d="M190.03 1553.11h1.74v1.91h-2.25zM188.99 1544.61h2.67v1.39h-1.47zM194.57 1551.92h2.67v1.71h-2.28zM189.5 1554.56h2.74v1.78h-2.48zM192.63 1545.42h2.52v1.89h-1.6zM188.79 1558.25h1.95v2.08h-2.76zM192.88 1559.14h1.79v2.2h-1.89zM268.31 1558.46h1.19v1.2h-1.43zM268.49 1551.38h2.25v1.45h-2.01zM265.02 1550.01h2.17v1.88h-2.81zM266.79 1559.26h2.71v2.49h-2.34zM263.68 1558.17h2.93v2.36h-2.14zM266.98 1547.78h2.66v1.86h-1.57zM263.08 1558.06h2.98v1.13h-2.6z" fill="#fff"/>
<rect x="198.37" y="1546.92" width="60.55" height="14.58" rx="1" fill="#fff"/>
<polyline points="186,1546.8 200,1546.8" fill="none" stroke="#ff1a1a" stroke-width="1.4"/>
<line x1="228.3" y1="1522" x2="228.3" y2="1545" stroke="#000" stroke-width="2" stroke-dasharray="8.3 5.6"/>
<line x1="227.9" y1="1564.4" x2="227.9" y2="1571.6" stroke="#ff2020" stroke-width="3.6"/>
<path d="M-15.3 0A15.3 15.3 0 0 1 15.3 0V6.5H15.9V9.5H-15.9V6.5H-15.3Z" transform="translate(29.8 1547.6) rotate(90)" fill="#000"/>
<path d="M-15.3 0A15.3 15.3 0 0 1 15.3 0V6.5H15.9V9.5H-15.9V6.5H-15.3Z" transform="translate(228.5 1753) rotate(0)" fill="#000"/>
<text x="25.5" y="1588.9" class="rx">Rx</text>
<text x="240.7" y="1749.1" class="rx">Tx</text>
<text x="236.8" y="1480" class="th it" font-size="33">&#952;</text>
<text x="254.5" y="1485.5" class="th" font-size="23">4</text>
<text x="277.2" y="1482.8" class="th" font-size="37" textLength="24.5" lengthAdjust="spacingAndGlyphs">=</text>
<text x="311.9" y="1480" class="th" font-size="32.5" textLength="34" lengthAdjust="spacingAndGlyphs">90</text>
<text x="347.9" y="1465.2" class="th" font-size="19">&#176;</text>
<clipPath id="clip_a"><rect x="397.4" y="46.7" width="399.2" height="294"/></clipPath>
<path d="M400 340.7V338.1M400 49.7V52.3M428.14 340.7V338.1M428.14 49.7V52.3M456.29 340.7V338.1M456.29 49.7V52.3M484.43 340.7V336.3M484.43 49.7V54.1M512.57 340.7V338.1M512.57 49.7V52.3M540.71 340.7V338.1M540.71 49.7V52.3M568.86 340.7V338.1M568.86 49.7V52.3M597 340.7V338.1M597 49.7V52.3M625.14 340.7V336.3M625.14 49.7V54.1M653.29 340.7V338.1M653.29 49.7V52.3M681.43 340.7V338.1M681.43 49.7V52.3M709.57 340.7V338.1M709.57 49.7V52.3M737.71 340.7V338.1M737.71 49.7V52.3M765.86 340.7V336.3M765.86 49.7V54.1M794 340.7V338.1M794 49.7V52.3M400 340.7H404.4M794 340.7H789.6M400 311.6H402.6M794 311.6H791.4M400 282.5H402.6M794 282.5H791.4M400 253.4H402.6M794 253.4H791.4M400 224.3H402.6M794 224.3H791.4M400 195.2H404.4M794 195.2H789.6M400 166.1H402.6M794 166.1H791.4M400 137H402.6M794 137H791.4M400 107.9H402.6M794 107.9H791.4M400 78.8H402.6M794 78.8H791.4M400 49.7H404.4M794 49.7H789.6" stroke="#262626" stroke-width="1.3" fill="none"/>
<rect x="400.5" y="49.5" width="394" height="291" fill="none" stroke="#262626" stroke-width="1.3"/>
<text x="484.43" y="379" text-anchor="middle" class="tk">0.5</text>
<text x="625.14" y="379" text-anchor="middle" class="tk">1</text>
<text x="765.86" y="379" text-anchor="middle" class="tk">1.5</text>
<text x="391" y="350.9" text-anchor="end" class="tk">0</text>
<text x="391" y="205.4" text-anchor="end" class="tk">0.5</text>
<text x="391" y="59.9" text-anchor="end" class="tk">1</text>
<path d="M398.67 257.56C399.28 255.32 401.12 246.76 402.34 244.11C403.56 241.46 404.38 241.97 406.01 241.66C407.64 241.36 410.49 241.77 412.12 242.27C413.75 242.78 414.37 243.6 415.79 244.72C417.22 245.84 419.26 248.7 420.68 249C422.11 249.31 423.03 248.29 424.35 246.56C425.68 244.82 427.41 239.62 428.64 238.61C429.86 237.59 430.37 239.12 431.69 240.44C433.02 241.77 434.95 245.43 436.59 246.56C438.22 247.68 440.05 246.66 441.48 247.17C442.9 247.68 443.92 251.14 445.15 249.61C446.37 248.08 447.59 240.54 448.82 237.99C450.04 235.45 451.26 234.53 452.49 234.32C453.71 234.12 454.93 234.73 456.15 236.77C457.38 238.81 458.8 244.52 459.82 246.56C460.84 248.59 461.25 250.02 462.27 249C463.29 247.98 464.92 242.07 465.94 240.44C466.96 238.81 467.37 238.4 468.39 239.22C469.4 240.03 470.83 245.74 472.05 245.33C473.28 244.92 474.3 239.01 475.72 236.77C477.15 234.53 479.39 233.51 480.62 231.88C481.84 230.25 482.04 228.21 483.06 226.99C484.08 225.76 485.71 233.1 486.73 224.54C487.75 215.98 488.16 191.27 489.18 175.62C490.2 159.96 491.93 138.7 492.85 130.61C493.76 122.51 493.87 126.9 494.68 127.06C495.5 127.22 496.82 125.53 497.74 131.59C498.66 137.64 499.37 148.1 500.19 163.39C501 178.67 501.82 213.94 502.63 223.32C503.45 232.69 503.86 225.15 505.08 219.65C506.3 214.14 508.54 196.61 509.97 190.29C511.4 183.97 512.42 182.55 513.64 181.73C514.86 180.92 515.88 180.3 517.31 185.4C518.74 190.5 520.98 205.38 522.2 212.31C523.42 219.24 523.83 224.74 524.65 226.99C525.46 229.23 525.87 226.88 527.09 225.76C528.32 224.64 530.56 220.67 531.99 220.26C533.41 219.85 534.43 220.97 535.66 223.32C536.88 225.66 537.9 231.06 539.32 234.32C540.75 237.59 542.79 241.26 544.22 242.89C545.64 244.52 546.26 245.74 547.89 244.11C549.52 242.48 552.17 235.34 554 233.1C555.84 230.86 557.47 238.2 558.89 230.66C560.32 223.11 561.14 203.14 562.56 187.85C563.99 172.56 566.03 148.1 567.46 138.92C568.88 129.75 569.9 132.81 571.13 132.81C572.35 132.81 573.37 129.75 574.79 138.92C576.22 148.1 578.06 171.95 579.69 187.85C581.32 203.75 582.74 226.99 584.58 234.32C586.41 241.66 588.86 232.08 590.69 231.88C592.53 231.67 594.87 233 595.59 233.1C596.3 233.2 594.28 232.59 595 232.49C595.72 232.39 597.85 231.98 599.89 232.49C601.93 233 604.99 235.14 607.23 235.55C609.47 235.96 611.51 234.32 613.35 234.94C615.18 235.55 616.81 239.52 618.24 239.22C619.67 238.91 620.89 234.53 621.91 233.1C622.93 231.67 623.13 229.94 624.35 230.66C625.58 231.37 627.82 238.2 629.25 237.38C630.67 236.57 631.9 227.9 632.92 225.76C633.94 223.62 634.14 224.13 635.36 224.54C636.59 224.95 638.62 226.88 640.25 228.21C641.89 229.53 643.72 232.18 645.15 232.49C646.57 232.8 647.39 230.86 648.82 230.04C650.24 229.23 652.08 228.92 653.71 227.6C655.34 226.27 656.97 223.62 658.6 222.09C660.23 220.57 661.86 219.65 663.49 218.42C665.12 217.2 666.96 213.33 668.39 214.76C669.81 216.18 671.04 224.03 672.05 226.99C673.07 229.94 673.48 233.92 674.5 232.49C675.52 231.06 677.15 221.18 678.17 218.42C679.19 215.67 679.39 215.16 680.62 215.98C681.84 216.79 684.08 222.3 685.51 223.32C686.94 224.34 687.95 221.89 689.18 222.09C690.4 222.3 691.83 223.11 692.85 224.54C693.87 225.97 694.48 228.62 695.29 230.66C696.11 232.69 696.72 236.06 697.74 236.77C698.76 237.48 700.19 236.97 701.41 234.94C702.63 232.9 703.86 226.78 705.08 224.54C706.3 222.3 707.32 221.58 708.75 221.48C710.17 221.38 712.42 224.44 713.64 223.93C714.86 223.42 715.27 222.4 716.09 218.42C716.9 214.45 717.72 207.21 718.53 200.08C719.35 192.94 720.16 182.55 720.98 175.62C721.79 168.69 722.41 161.75 723.42 158.49C724.44 155.23 725.87 156.05 727.09 156.05C728.32 156.05 729.34 155.23 730.76 158.49C732.19 161.75 734.23 168.69 735.66 175.62C737.08 182.55 738.1 191.92 739.32 200.08C740.55 208.23 741.97 218.83 742.99 224.54C744.01 230.25 744.42 232.59 745.44 234.32C746.46 236.06 748.09 234.32 749.11 234.94C750.13 235.55 750.74 237.89 751.56 237.99C752.37 238.1 752.98 236.57 754 235.55C755.02 234.53 756.45 232.9 757.67 231.88C758.89 230.86 760.32 230.96 761.34 229.43C762.36 227.9 762.97 224.34 763.79 222.71C764.6 221.07 765.01 219.75 766.23 219.65C767.46 219.55 769.49 221.07 771.13 222.09C772.76 223.11 774.39 224.95 776.02 225.76C777.65 226.58 779.28 226.27 780.91 226.99C782.54 227.7 784.17 228.82 785.8 230.04C787.43 231.27 789.47 233.2 790.69 234.32C791.92 235.45 792.53 234.94 793.14 236.77C793.75 238.61 794.16 243.91 794.36 245.33" fill="none" stroke="#7E2F8E" stroke-width="5.5" stroke-linejoin="round" stroke-linecap="round" clip-path="url(#clip_a)"/>
<polyline points="398.67,274.69 403.56,264.9 408.45,279.58 412.12,271.02 414.57,252.67 417.63,256.34 419.46,273.46 423.13,282.03 426.8,278.36 429.25,283.25 431.69,269.79 436.59,267.35 437.81,277.13 440.25,258.79 443.92,261.23 446.37,279.58 450.04,263.68 452.49,275.91 455.54,291.81 458.6,263.68 463.49,251.45 465.94,267.35 468.39,249 472.05,272.24 475.72,260.01 480.62,274.69 483.06,255.12 487.95,258.79 491.62,249 495.29,201.3 497.74,224.54 500.19,255.12 503.86,261.23 508.75,250.23 512.42,241.66 516.09,247.78 522.2,251.45 525.87,266.13 529.54,250.23 535.66,247.78 541.77,250.23 546.66,247.78 551.56,253.89 558.89,260.01 563.79,249 567.46,200.08 573.57,197.63 577.24,230.66 582.13,249 587.03,247.78 591.92,261.23 595.59,244.11 595,251.45 598.67,248.39 602.34,240.44 607.23,242.89 610.9,239.83 614.57,250.23 618.24,245.33 620.68,255.12 623.13,260.01 625.58,251.45 628.02,254.51 631.08,262.46 632.92,249 636.59,247.17 641.48,242.89 645.15,247.78 648.82,244.11 654.93,245.33 656.15,239.22 659.82,246.56 663.49,255.12 668.39,258.79 672.05,249 674.5,263.68 679.39,239.22 681.84,237.99 685.51,257.56 687.95,247.78 695.29,245.33 697.74,245.33 700.19,231.88 702.63,226.99 705.08,234.32 707.52,229.43 709.97,223.32 713.64,234.32 716.09,229.43 722.2,218.42 724.65,207.42 728.32,201.3 730.76,206.19 735.66,208.64 739.32,217.2 741.77,224.54 745.44,245.33 750.33,241.66 754,245.33 756.45,234.32 760.12,217.2 763.79,213.53 768.68,215.98 771.13,222.09 774.79,223.32 778.46,219.65 782.13,225.76 785.8,228.21 788.25,224.54 791.92,235.55 795.59,233.1" fill="none" stroke="#77AC30" stroke-width="5.5" stroke-linejoin="round" stroke-linecap="round" clip-path="url(#clip_a)"/>
<line x1="400.5" y1="178.61" x2="792" y2="178.61" stroke="#000" stroke-width="5.4" stroke-dasharray="5.2 5.2"/>
<text x="596.5" y="417" text-anchor="middle" class="lb">Frequency (THz)</text>
<text transform="translate(332,195.5) rotate(-90)" x="-33.5" y="0" class="mi" font-size="37" textLength="67" lengthAdjust="spacing">&#946;<tspan class="rm">(</tspan>f<tspan class="rm">)</tspan></text>
<text x="406.7" y="330" class="pl">(a)</text>
<rect x="507.5" y="20" width="334.8" height="73.7" fill="#fff" stroke="#262626" stroke-width="1.3"/>
<line x1="511.4" y1="39.8" x2="550.5" y2="39.8" stroke="#7E2F8E" stroke-width="5.9"/>
<line x1="511.4" y1="75.3" x2="550.5" y2="75.3" stroke="#77AC30" stroke-width="5.9"/>
<text x="554.2" y="46.8" class="mi" font-size="25.5">D</text><text x="568.7" y="42.3" class="lg" font-size="27" text-anchor="middle">&#732;</text><text x="574.5" y="51" class="lg" font-size="17.5">4</text><text x="600.4" y="50.1" class="lg" font-size="35" text-anchor="middle">+</text><text x="617.8" y="46.8" class="mi" font-size="25.5">D</text><text x="632.3" y="42.3" class="lg" font-size="27" text-anchor="middle">&#732;</text><text x="638.1" y="51" class="lg" font-size="17.5">6</text><text x="664" y="50.1" class="lg" font-size="35" text-anchor="middle">+</text><text x="680.6" y="46.8" class="mi" font-size="25.5">D</text><text x="695.1" y="42.3" class="lg" font-size="27" text-anchor="middle">&#732;</text><text x="700.9" y="51" class="lg" font-size="17.5">7</text><text x="726.8" y="50.1" class="lg" font-size="35" text-anchor="middle">+</text><text x="743.4" y="46.8" class="mi" font-size="25.5">D</text><text x="757.9" y="42.3" class="lg" font-size="27" text-anchor="middle">&#732;</text><text x="763.7" y="51" class="lg" font-size="17.5">8</text><text x="789.6" y="50.1" class="lg" font-size="35" text-anchor="middle">+</text><text x="807" y="46.8" class="mi" font-size="25.5">D</text><text x="821.5" y="42.3" class="lg" font-size="27" text-anchor="middle">&#732;</text><text x="827.3" y="51" class="lg" font-size="17.5">9</text>
<text x="553.9" y="81.1" class="lg" font-size="24.8" textLength="233.5" lengthAdjust="spacingAndGlyphs">Extinction Spectrum</text>
<path d="M492.8 121.9L480.6 100.2L505 100.2Z" fill="#FF0000"/>
<rect x="491.2" y="90.7" width="3.2" height="10" fill="#FF0000"/>
<text x="454.7" y="81.2" class="an" fill="#FF0000" textLength="50.8" lengthAdjust="spacingAndGlyphs">0.53</text>
<path d="M515.3 173.3L503.1 150.3L527.5 150.3Z" fill="#0000FF"/>
<rect x="513.7" y="142.2" width="3.2" height="8.6" fill="#0000FF"/>
<text x="502.1" y="131.3" class="an" fill="#0000FF" textLength="36.2" lengthAdjust="spacingAndGlyphs">0.6</text>
<path d="M570.8 127.3L558.6 105.6L583 105.6Z" fill="#0000FF"/>
<rect x="569.2" y="97.5" width="3.2" height="8.6" fill="#0000FF"/>
<text x="584.7" y="116.4" class="an" fill="#0000FF" textLength="35.3" lengthAdjust="spacingAndGlyphs">0.8</text>
<path d="M727.9 153L715.7 131.3L740.1 131.3Z" fill="#FF0000"/>
<rect x="726.3" y="121.3" width="3.2" height="10.5" fill="#FF0000"/>
<text x="702.5" y="115.1" class="an" fill="#FF0000" textLength="47.8" lengthAdjust="spacingAndGlyphs">1.38</text>
<clipPath id="clip_b"><rect x="392.6" y="500.3" width="399" height="295"/></clipPath>
<path d="M395.2 795.3V792.7M395.2 503.3V505.9M423.33 795.3V792.7M423.33 503.3V505.9M451.46 795.3V792.7M451.46 503.3V505.9M479.59 795.3V790.9M479.59 503.3V507.7M507.71 795.3V792.7M507.71 503.3V505.9M535.84 795.3V792.7M535.84 503.3V505.9M563.97 795.3V792.7M563.97 503.3V505.9M592.1 795.3V792.7M592.1 503.3V505.9M620.23 795.3V790.9M620.23 503.3V507.7M648.36 795.3V792.7M648.36 503.3V505.9M676.49 795.3V792.7M676.49 503.3V505.9M704.61 795.3V792.7M704.61 503.3V505.9M732.74 795.3V792.7M732.74 503.3V505.9M760.87 795.3V790.9M760.87 503.3V507.7M789 795.3V792.7M789 503.3V505.9M395.2 795.3H399.6M789 795.3H784.6M395.2 766.1H397.8M789 766.1H786.4M395.2 736.9H397.8M789 736.9H786.4M395.2 707.7H397.8M789 707.7H786.4M395.2 678.5H397.8M789 678.5H786.4M395.2 649.3H399.6M789 649.3H784.6M395.2 620.1H397.8M789 620.1H786.4M395.2 590.9H397.8M789 590.9H786.4M395.2 561.7H397.8M789 561.7H786.4M395.2 532.5H397.8M789 532.5H786.4M395.2 503.3H399.6M789 503.3H784.6" stroke="#262626" stroke-width="1.3" fill="none"/>
<rect x="395.5" y="503.5" width="394" height="292" fill="none" stroke="#262626" stroke-width="1.3"/>
<text x="479.59" y="833.6" text-anchor="middle" class="tk">0.5</text>
<text x="620.23" y="833.6" text-anchor="middle" class="tk">1</text>
<text x="760.87" y="833.6" text-anchor="middle" class="tk">1.5</text>
<text x="386.2" y="805.5" text-anchor="end" class="tk">0</text>
<text x="386.2" y="659.5" text-anchor="end" class="tk">0.5</text>
<text x="386.2" y="513.5" text-anchor="end" class="tk">1</text>
<path d="M394.28 692.09C394.79 689.65 396.22 680.68 397.34 677.42C398.46 674.16 399.58 673.14 401.01 672.52C402.43 671.91 404.27 672.73 405.9 673.75C407.53 674.77 409.37 677.01 410.79 678.64C412.22 680.27 412.83 682.41 414.46 683.53C416.09 684.65 418.74 684.35 420.58 685.37C422.41 686.39 423.84 688.53 425.47 689.65C427.1 690.77 428.73 692.09 430.36 692.09C431.99 692.09 433.42 689.24 435.25 689.65C437.09 690.06 439.54 694.34 441.37 694.54C443.2 694.74 444.63 692.09 446.26 690.87C447.89 689.65 449.52 688.63 451.15 687.2C452.79 685.77 454.42 683.12 456.05 682.31C457.68 681.49 459.31 682.72 460.94 682.31C462.57 681.9 464.4 680.68 465.83 679.86C467.26 679.05 468.28 677.82 469.5 677.42C470.72 677.01 471.95 678.23 473.17 677.42C474.39 676.6 475.62 673.75 476.84 672.52C478.06 671.3 479.29 674.56 480.51 670.08C481.73 665.59 482.95 653.97 484.18 645.62C485.4 637.26 486.93 624.62 487.85 619.93C488.76 615.24 488.87 616.87 489.68 617.49C490.5 618.1 491.62 617.89 492.74 623.6C493.86 629.31 495.39 642.97 496.41 651.73C497.43 660.5 497.84 672.32 498.86 676.19C499.87 680.07 501.1 677.62 502.52 674.97C503.95 672.32 505.99 663.35 507.42 660.29C508.84 657.24 509.86 656.01 511.09 656.62C512.31 657.24 513.53 659.68 514.76 663.96C515.98 668.24 517.41 679.25 518.42 682.31C519.44 685.37 519.85 683.74 520.87 682.31C521.89 680.88 523.32 674.77 524.54 673.75C525.76 672.73 526.99 675.17 528.21 676.19C529.43 677.21 530.25 679.86 531.88 679.86C533.51 679.86 536.36 676.19 537.99 676.19C539.62 676.19 540.44 678.64 541.66 679.86C542.89 681.09 544.11 684.14 545.33 683.53C546.56 682.92 547.58 679.46 549 676.19C550.43 672.93 552.26 671.1 553.89 663.96C555.53 656.83 557.36 641.74 558.79 633.39C560.21 625.03 561.44 617.49 562.46 613.82C563.48 610.15 563.88 611.37 564.9 611.37C565.92 611.37 567.35 610.15 568.57 613.82C569.79 617.49 571.02 625.03 572.24 633.39C573.46 641.74 574.89 657.24 575.91 663.96C576.93 670.69 577.13 672.12 578.36 673.75C579.58 675.38 581.82 673.14 583.25 673.75C584.68 674.36 585.69 676.19 586.92 677.42C588.14 678.64 590.07 680.27 590.59 681.09C591.1 681.9 589.28 681.09 590 682.31C590.72 683.53 593.26 686.39 594.89 688.42C596.52 690.46 597.95 692.3 599.78 694.54C601.62 696.78 603.86 701.47 605.9 701.88C607.94 702.29 609.57 698.21 612.02 696.99C614.46 695.76 617.11 695.36 620.58 694.54C624.04 693.72 628.73 692.91 632.81 692.09C636.89 691.28 641.51 690.69 645.04 689.65C648.57 688.61 650.87 684.43 653.97 685.86C657.07 687.28 660.31 699.6 663.63 698.21C666.95 696.82 670.7 679.6 673.9 677.54C677.1 675.48 679.75 684.04 682.83 685.86C685.91 687.67 689.72 689.81 692.37 688.42C695.02 687.04 697.04 679.58 698.73 677.54C700.42 675.5 700.67 677.03 702.52 676.19C704.38 675.36 708.03 675.58 709.86 672.52C711.7 669.47 712.31 662.74 713.53 657.85C714.76 652.95 715.98 648.06 717.2 643.17C718.42 638.28 719.85 631.35 720.87 628.49C721.89 625.64 722.3 625.64 723.32 626.05C724.34 626.45 725.76 627.68 726.99 630.94C728.21 634.2 729.43 640.11 730.66 645.62C731.88 651.12 733.1 658.66 734.32 663.96C735.55 669.26 736.77 673.95 737.99 677.42C739.22 680.88 739.83 683.53 741.66 684.76C743.5 685.98 745.74 685.16 749 684.76C752.26 684.35 758.18 681.9 761.23 682.31C764.29 682.72 764.9 685.98 767.35 687.2C769.79 688.42 772.85 688.63 775.91 689.65C778.97 690.67 783.25 692.3 785.69 693.32C788.14 694.34 789.77 695.36 790.59 695.76" fill="none" stroke="#7E2F8E" stroke-width="5.5" stroke-linejoin="round" stroke-linecap="round" clip-path="url(#clip_b)"/>
<polyline points="393.67,705.55 395.5,712.04 397.34,708.75 399.17,711.42 401.01,702.32 402.84,710.53 404.68,706.59 407.12,703.15 409.57,698.64 412.02,713.65 414.46,715.4 416.91,702.59 418.74,697.95 420.58,708.11 422.41,707.6 424.25,720.54 426.69,701.52 428.53,712.3 430.36,712.43 432.81,700.89 435.25,693.8 437.7,710.67 439.54,708.65 441.37,722.18 443.82,700.19 446.26,705.21 448.71,706.27 451.15,724.86 453.6,702.69 456.05,708.13 458.49,713.3 460.12,716.7 461.75,709.15 463.39,714.19 465.02,710.32 466.65,718.27 468.28,714.73 470.72,709.52 472.35,703.46 473.99,711.9 475.62,707.07 478.06,709.97 479.69,708.52 481.32,714.92 482.95,719 485.4,706.77 487.85,652.95 490.29,682.31 492.13,705.55 493.96,728.79 496.41,710.44 498.24,709.99 500.08,705.7 502.52,694.22 504.36,682.43 506.19,679.69 508.64,668.09 510.47,673.02 512.31,671.03 514.76,679.33 517.2,693.56 519.65,701.7 522.09,686.7 523.93,692.91 525.76,692.15 528.21,709.94 530.04,701.27 531.88,694.54 533.51,691.69 535.14,688.83 536.77,685.98 538.61,690.87 540.44,695.76 542.89,700.66 544.72,707.99 546.56,715.33 549,693.32 550.63,692.09 552.26,690.87 553.89,689.65 555.53,683.12 557.16,676.6 558.79,670.08 560.62,651.73 562.46,633.39 564.9,612.59 566.74,616.87 568.57,621.15 571.02,645.62 573.46,670.08 575.91,707.99 578.36,676.19 580.19,688.42 582.03,700.66 583.86,691.48 585.69,682.31 587.53,679.86 589.36,677.42 590,670.08 591.83,673.62 593.67,674.36 595.5,685.27 597.34,680.51 599.17,692.78 601.01,684.01 602.84,698.81 604.68,692.68 606.51,694.62 608.35,681.41 610.18,694.75 612.02,687.88 613.85,696.53 615.68,688.26 617.52,690.9 619.35,674.24 621.19,696.17 623.02,695.13 624.86,695.59 626.69,678.47 628.32,688.56 629.95,673.56 631.59,682.49 633.22,679.04 634.85,689.94 636.48,686.15 638.31,688.22 640.15,672.31 641.98,689.86 643.82,689.85 645.65,685.57 647.49,664.56 649.32,677.55 651.15,670.94 652.79,678.88 654.42,669.37 656.05,678.68 657.88,672.78 659.72,688.83 661.55,686.67 663.39,700.57 665.22,698 667.05,715.97 668.89,699.42 670.72,699.57 672.35,688.54 673.99,697.14 675.62,686.26 678.06,682.45 679.9,681.3 681.73,699.12 684.18,701.24 686.01,697.59 687.85,672.5 689.68,681.19 691.52,670.71 693.35,679.38 695.19,669.16 697.02,671.35 698.86,659.83 700.69,668.6 702.52,668.29 704.97,697 707.42,675.23 709.25,683.33 711.09,686.14 713.53,671.82 715.37,664.06 717.2,664.88 719.04,659.07 720.87,655.4 722.71,659.68 724.54,663.96 726.99,661.52 729.43,676.19 731.27,687.2 733.1,698.21 734.94,692.09 736.77,683.33 738.4,692.35 740.03,686.7 741.66,697 744.11,678.01 745.94,696.27 747.78,699.87 749.61,693.62 751.45,674.27 753.08,681.26 754.71,673.33 756.34,682.86 757.97,678.13 759.6,690.04 761.23,685.04 763.68,680.22 765.31,671.46 766.94,680.13 768.57,674.93 770.2,682.62 771.83,676.06 773.46,686.9 775.3,689.74 777.13,710.8 778.97,691.68 780.8,683.57 782.64,690.27 784.47,712.16 786.31,692.5 788.14,686.38 790.59,700.06" fill="none" stroke="#77AC30" stroke-width="5.5" stroke-linejoin="round" stroke-linecap="round" clip-path="url(#clip_b)"/>
<line x1="395.7" y1="632.66" x2="787" y2="632.66" stroke="#000" stroke-width="5.4" stroke-dasharray="5.2 5.2"/>
<text x="591.6" y="871.6" text-anchor="middle" class="lb">Frequency (THz)</text>
<text transform="translate(327.2,649.6) rotate(-90)" x="-33.5" y="0" class="mi" font-size="37" textLength="67" lengthAdjust="spacing">&#946;<tspan class="rm">(</tspan>f<tspan class="rm">)</tspan></text>
<text x="403.9" y="781.8" class="pl">(b)</text>
<rect x="527.2" y="474.9" width="308.8" height="81.6" fill="#fff" stroke="#262626" stroke-width="1.3"/>
<line x1="531.2" y1="496.7" x2="569.9" y2="496.7" stroke="#7E2F8E" stroke-width="5.9"/>
<line x1="531.2" y1="535.4" x2="569.9" y2="535.4" stroke="#77AC30" stroke-width="5.9"/>
<text x="573.4" y="504.4" class="mi" font-size="28.05">D</text><text x="589.25" y="499.45" class="lg" font-size="29.7" text-anchor="middle">&#732;</text><text x="595.63" y="509.02" class="lg" font-size="19.25">6</text><text x="624.12" y="508.03" class="lg" font-size="38.5" text-anchor="middle">+</text><text x="643" y="504.4" class="mi" font-size="28.05">D</text><text x="658.85" y="499.45" class="lg" font-size="29.7" text-anchor="middle">&#732;</text><text x="665.23" y="509.02" class="lg" font-size="19.25">7</text><text x="693.72" y="508.03" class="lg" font-size="38.5" text-anchor="middle">+</text><text x="712.6" y="504.4" class="mi" font-size="28.05">D</text><text x="728.45" y="499.45" class="lg" font-size="29.7" text-anchor="middle">&#732;</text><text x="734.83" y="509.02" class="lg" font-size="19.25">8</text><text x="763.32" y="508.03" class="lg" font-size="38.5" text-anchor="middle">+</text><text x="782.2" y="504.4" class="mi" font-size="28.05">D</text><text x="798.05" y="499.45" class="lg" font-size="29.7" text-anchor="middle">&#732;</text><text x="804.43" y="509.02" class="lg" font-size="19.25">9</text>
<text x="573.6" y="542.6" class="lg" font-size="27.28" textLength="257" lengthAdjust="spacingAndGlyphs">Extinction Spectrum</text>
<path d="M488.2 613L476 591.3L500.4 591.3Z" fill="#FF0000"/>
<rect x="486.6" y="581.3" width="3.2" height="10.5" fill="#FF0000"/>
<text x="461.5" y="573.7" class="an" fill="#FF0000" textLength="50.8" lengthAdjust="spacingAndGlyphs">0.53</text>
<path d="M564 603.5L551.8 580.5L576.2 580.5Z" fill="#0000FF"/>
<rect x="562.4" y="571" width="3.2" height="10" fill="#0000FF"/>
<text x="582" y="587.3" class="an" fill="#0000FF" textLength="35.3" lengthAdjust="spacingAndGlyphs">0.8</text>
<path d="M723 619.8L710.8 596.8L735.2 596.8Z" fill="#FF0000"/>
<rect x="721.4" y="587.3" width="3.2" height="10" fill="#FF0000"/>
<text x="694.4" y="579.2" class="an" fill="#FF0000" textLength="47.8" lengthAdjust="spacingAndGlyphs">1.38</text>
<clipPath id="clip_c"><rect x="397.6" y="956.3" width="399.2" height="295.5"/></clipPath>
<path d="M400.2 1251.8V1249.2M400.2 959.3V961.9M428.34 1251.8V1249.2M428.34 959.3V961.9M456.49 1251.8V1249.2M456.49 959.3V961.9M484.63 1251.8V1247.4M484.63 959.3V963.7M512.77 1251.8V1249.2M512.77 959.3V961.9M540.91 1251.8V1249.2M540.91 959.3V961.9M569.06 1251.8V1249.2M569.06 959.3V961.9M597.2 1251.8V1249.2M597.2 959.3V961.9M625.34 1251.8V1247.4M625.34 959.3V963.7M653.49 1251.8V1249.2M653.49 959.3V961.9M681.63 1251.8V1249.2M681.63 959.3V961.9M709.77 1251.8V1249.2M709.77 959.3V961.9M737.91 1251.8V1249.2M737.91 959.3V961.9M766.06 1251.8V1247.4M766.06 959.3V963.7M794.2 1251.8V1249.2M794.2 959.3V961.9M400.2 1251.8H404.6M794.2 1251.8H789.8M400.2 1222.55H402.8M794.2 1222.55H791.6M400.2 1193.3H402.8M794.2 1193.3H791.6M400.2 1164.05H402.8M794.2 1164.05H791.6M400.2 1134.8H402.8M794.2 1134.8H791.6M400.2 1105.55H404.6M794.2 1105.55H789.8M400.2 1076.3H402.8M794.2 1076.3H791.6M400.2 1047.05H402.8M794.2 1047.05H791.6M400.2 1017.8H402.8M794.2 1017.8H791.6M400.2 988.55H402.8M794.2 988.55H791.6M400.2 959.3H404.6M794.2 959.3H789.8" stroke="#262626" stroke-width="1.3" fill="none"/>
<rect x="400.5" y="959.5" width="394" height="292" fill="none" stroke="#262626" stroke-width="1.3"/>
<text x="484.63" y="1290.1" text-anchor="middle" class="tk">0.5</text>
<text x="625.34" y="1290.1" text-anchor="middle" class="tk">1</text>
<text x="766.06" y="1290.1" text-anchor="middle" class="tk">1.5</text>
<text x="391.2" y="1262" text-anchor="end" class="tk">0</text>
<text x="391.2" y="1115.75" text-anchor="end" class="tk">0.5</text>
<text x="391.2" y="969.5" text-anchor="end" class="tk">1</text>
<path d="M400.5 1145.76C401.42 1145.76 404.07 1144.34 406.01 1145.76C407.94 1147.19 410.59 1154.12 412.12 1154.32C413.65 1154.53 414.16 1147.19 415.18 1146.99C416.2 1146.78 416.71 1153.1 418.24 1153.1C419.77 1153.1 422.32 1148.62 424.35 1146.99C426.39 1145.36 428.43 1144.74 430.47 1143.32C432.51 1141.89 434.75 1137.2 436.59 1138.42C438.42 1139.65 440.05 1150.04 441.48 1150.66C442.9 1151.27 443.72 1144.34 445.15 1142.09C446.57 1139.85 448.41 1137 450.04 1137.2C451.67 1137.41 453.1 1140.67 454.93 1143.32C456.77 1145.97 459.21 1153.71 461.05 1153.1C462.88 1152.49 464.72 1140.26 465.94 1139.65C467.16 1139.04 467.37 1151.06 468.39 1149.43C469.4 1147.8 470.63 1134.35 472.05 1129.86C473.48 1125.38 475.52 1122.32 476.95 1122.52C478.37 1122.73 479.19 1129.86 480.62 1131.09C482.04 1132.31 484.08 1131.7 485.51 1129.86C486.94 1128.03 487.95 1130.88 489.18 1120.08C490.4 1109.27 491.83 1076.35 492.85 1065.04C493.87 1053.73 494.48 1052.81 495.29 1052.2C496.11 1051.59 496.92 1052.09 497.74 1061.37C498.56 1070.64 499.37 1095.21 500.19 1107.85C501 1120.49 501.61 1132.72 502.63 1137.2C503.65 1141.69 504.87 1137.2 506.3 1134.76C507.73 1132.31 509.56 1125.38 511.19 1122.52C512.82 1119.67 514.66 1117.02 516.09 1117.63C517.51 1118.24 518.53 1124.77 519.76 1126.19C520.98 1127.62 522.2 1124.36 523.42 1126.19C524.65 1128.03 526.07 1137.81 527.09 1137.2C528.11 1136.59 528.52 1125.79 529.54 1122.52C530.56 1119.26 531.78 1119.06 533.21 1117.63C534.64 1116.21 536.67 1111.92 538.1 1113.96C539.53 1116 540.34 1129.05 541.77 1129.86C543.2 1130.68 545.24 1118.65 546.66 1118.86C548.09 1119.06 549.11 1130.47 550.33 1131.09C551.56 1131.7 552.78 1122.73 554 1122.52C555.23 1122.32 556.65 1131.09 557.67 1129.86C558.69 1128.64 559.1 1119.87 560.12 1115.19C561.14 1110.5 562.56 1109.07 563.79 1101.73C565.01 1094.39 566.23 1078.09 567.46 1071.15C568.68 1064.22 569.9 1061.17 571.13 1060.15C572.35 1059.13 573.57 1060.15 574.79 1065.04C576.02 1069.93 577.24 1081.35 578.46 1089.5C579.69 1097.65 580.91 1107.24 582.13 1113.96C583.36 1120.69 584.58 1125.38 585.8 1129.86C587.03 1134.35 588.25 1141.48 589.47 1140.87C590.69 1140.26 592.12 1128.44 593.14 1126.19C594.16 1123.95 595.28 1127.62 595.59 1127.42C595.9 1127.21 594.28 1124.97 595 1124.97C595.72 1124.97 598.26 1126.4 599.89 1127.42C601.52 1128.44 603.36 1130.07 604.78 1131.09C606.21 1132.11 607.03 1133.53 608.45 1133.53C609.88 1133.53 611.72 1131.09 613.35 1131.09C614.98 1131.09 616.81 1132.31 618.24 1133.53C619.67 1134.76 620.48 1137.81 621.91 1138.42C623.33 1139.04 625.17 1137.61 626.8 1137.2C628.43 1136.79 630.06 1136.79 631.69 1135.98C633.32 1135.16 634.95 1133.12 636.59 1132.31C638.22 1131.49 639.85 1130.88 641.48 1131.09C643.11 1131.29 644.54 1133.33 646.37 1133.53C648.2 1133.74 650.85 1133.74 652.49 1132.31C654.12 1130.88 654.93 1127.21 656.15 1124.97C657.38 1122.73 658.4 1118.65 659.82 1118.86C661.25 1119.06 663.29 1124.56 664.72 1126.19C666.14 1127.82 667.37 1125.99 668.39 1128.64C669.4 1131.29 669.61 1141.07 670.83 1142.09C672.05 1143.11 674.09 1136.39 675.72 1134.76C677.35 1133.12 679.19 1133.12 680.62 1132.31C682.04 1131.49 682.86 1131.09 684.29 1129.86C685.71 1128.64 687.95 1123.95 689.18 1124.97C690.4 1125.99 690.61 1135.77 691.62 1135.98C692.64 1136.18 694.27 1128.64 695.29 1126.19C696.31 1123.75 696.52 1121.71 697.74 1121.3C698.96 1120.89 701.21 1122.73 702.63 1123.75C704.06 1124.77 705.08 1125.17 706.3 1127.42C707.52 1129.66 708.75 1135.37 709.97 1137.2C711.19 1139.04 712.42 1140.46 713.64 1138.42C714.86 1136.39 716.09 1128.44 717.31 1124.97C718.53 1121.51 719.55 1119.26 720.98 1117.63C722.41 1116 724.44 1114.98 725.87 1115.19C727.3 1115.39 727.91 1118.04 729.54 1118.86C731.17 1119.67 734.23 1118.24 735.66 1120.08C737.08 1121.91 737.29 1127.42 738.1 1129.86C738.92 1132.31 738.92 1133.94 740.55 1134.76C742.18 1135.57 745.85 1135.16 747.89 1134.76C749.92 1134.35 751.15 1131.49 752.78 1132.31C754.41 1133.12 756.24 1139.04 757.67 1139.65C759.1 1140.26 759.91 1136.39 761.34 1135.98C762.77 1135.57 764.6 1137 766.23 1137.2C767.86 1137.41 769.7 1138.02 771.13 1137.2C772.55 1136.39 773.57 1132.31 774.79 1132.31C776.02 1132.31 777.04 1135.57 778.46 1137.2C779.89 1138.83 781.73 1141.89 783.36 1142.09C784.99 1142.3 786.62 1138.83 788.25 1138.42C789.88 1138.02 792.33 1139.44 793.14 1139.65" fill="none" stroke="#7E2F8E" stroke-width="5.5" stroke-linejoin="round" stroke-linecap="round" clip-path="url(#clip_c)"/>
<polyline points="398.67,1184.9 400.5,1182.46 402.34,1180.01 403.97,1181.64 405.6,1183.27 407.23,1184.9 409.68,1177.56 411.31,1176.34 412.94,1175.12 414.57,1173.89 416.4,1177.56 418.24,1181.23 419.87,1184.49 421.5,1187.76 423.13,1191.02 425.58,1175.12 427.11,1175.12 428.64,1175.12 430.16,1175.12 431.69,1175.12 433.32,1171.86 434.95,1168.59 436.59,1165.33 438.22,1170.63 439.85,1175.93 441.48,1181.23 443.31,1173.89 445.15,1166.56 446.98,1164.72 448.82,1162.89 450.45,1164.11 452.08,1165.33 453.71,1166.56 455.54,1164.72 457.38,1162.89 459.82,1178.79 461.66,1169 463.49,1159.22 465.12,1160.44 466.75,1161.66 468.39,1162.89 470.02,1158.81 471.65,1154.73 473.28,1150.66 474.91,1149.02 476.54,1147.39 478.17,1145.76 480.62,1148.21 482.25,1145.36 483.88,1142.5 485.51,1139.65 487.34,1136.59 489.18,1133.53 491.62,1132.31 494.07,1095.62 496.52,1095.62 498.96,1144.54 500.8,1145.76 502.63,1146.99 505.08,1151.88 506.91,1145.76 508.75,1139.65 510.58,1135.37 512.42,1131.09 514.25,1129.86 516.09,1128.64 517.92,1135.37 519.76,1142.09 522.2,1138.42 524.04,1145.76 525.87,1153.1 527.71,1147.6 529.54,1142.09 531.17,1140.06 532.8,1138.02 534.43,1135.98 536.27,1139.65 538.1,1143.32 539.73,1142.5 541.36,1141.69 542.99,1140.87 544.83,1138.42 546.66,1135.98 548.5,1142.71 550.33,1149.43 552.17,1145.76 554,1142.09 555.84,1146.99 557.67,1151.88 560.12,1133.53 561.95,1129.86 563.79,1126.19 565.62,1110.91 567.46,1095.62 569.29,1084.61 571.13,1073.6 572.96,1076.05 574.79,1078.49 576.63,1090.11 578.46,1101.73 580.3,1113.96 582.13,1126.19 583.97,1135.37 585.8,1144.54 587.64,1153.1 589.47,1161.66 591.92,1146.99 593.75,1142.09 595.59,1137.2 595,1142.09 596.83,1139.04 598.67,1135.98 600.5,1135.91 602.34,1132.6 604.17,1136.89 606.01,1137.44 607.84,1144.86 609.68,1147.22 611.51,1143.84 613.35,1135.74 614.98,1143.8 616.61,1146.07 618.24,1154.35 619.87,1149.89 621.5,1150.41 623.13,1146.03 624.97,1140.73 626.8,1129.96 628.64,1135.89 630.47,1136.97 632.3,1136.25 634.14,1130.88 635.97,1139.45 637.81,1142.23 639.64,1138.94 641.48,1129.8 643.31,1135.09 645.15,1134.75 647.59,1161.6 649.43,1147.2 651.26,1136.71 652.89,1131.37 654.52,1130.43 656.15,1123.67 658.6,1143.31 660.23,1137.14 661.86,1136.94 663.49,1130.53 665.94,1146.87 667.77,1141.75 669.61,1141.36 671.24,1141.61 672.87,1146.93 674.5,1146.85 676.34,1145.71 678.17,1137.91 679.8,1137 681.43,1130.73 683.06,1128.16 684.9,1135.97 686.73,1148.59 688.57,1141.9 690.4,1139.6 692.85,1155.96 694.68,1148.04 696.52,1136.48 698.15,1137.46 699.78,1134.29 701.41,1135.69 703.24,1129.52 705.08,1128.2 706.71,1127.69 708.34,1130.86 709.97,1129.93 711.5,1134.77 713.03,1134.26 714.56,1138.98 716.09,1137.93 717.92,1130.72 719.76,1118.43 721.59,1118.86 723.42,1117.63 725.26,1117.63 727.09,1117.63 728.93,1129.86 730.76,1142.09 732.6,1135.37 734.43,1128.64 736.27,1140.87 738.1,1153.1 739.94,1146.37 741.77,1141.32 743.4,1143.08 745.03,1151.93 746.66,1154.13 748.5,1147.99 750.33,1137.36 751.86,1141.37 753.39,1140.98 754.92,1145 756.45,1144.61 757.92,1147.38 759.38,1143.87 760.85,1147.7 762.32,1143.77 763.79,1146.8 765.62,1140.74 767.46,1140.77 769.29,1142.34 771.13,1148.25 772.96,1142.28 774.79,1141.81 777.24,1127.47 779.08,1138 780.91,1142.57 782.74,1142.28 784.58,1135.77 786.11,1152.64 787.64,1164.33 789.17,1156.98 790.69,1142.44 793.14,1140.26 795.59,1146.8" fill="none" stroke="#77AC30" stroke-width="5.5" stroke-linejoin="round" stroke-linecap="round" clip-path="url(#clip_c)"/>
<line x1="400.7" y1="1088.88" x2="792.2" y2="1088.88" stroke="#000" stroke-width="5.4" stroke-dasharray="5.2 5.2"/>
<text x="596.7" y="1328.1" text-anchor="middle" class="lb">Frequency (THz)</text>
<text transform="translate(332.2,1105.85) rotate(-90)" x="-33.5" y="0" class="mi" font-size="37" textLength="67" lengthAdjust="spacing">&#946;<tspan class="rm">(</tspan>f<tspan class="rm">)</tspan></text>
<text x="406.9" y="1239.9" class="pl">(c)</text>
<rect x="478.4" y="931.6" width="363.9" height="76.7" fill="#fff" stroke="#262626" stroke-width="1.3"/>
<line x1="482.7" y1="951.8" x2="521.4" y2="951.8" stroke="#7E2F8E" stroke-width="5.9"/>
<line x1="482.7" y1="989.2" x2="521.4" y2="989.2" stroke="#77AC30" stroke-width="5.9"/>
<text x="525.1" y="960" class="mi" font-size="28.05">D</text><text x="540.95" y="955.05" class="lg" font-size="29.7" text-anchor="middle">&#732;</text><text x="547.33" y="964.62" class="lg" font-size="19.25">4</text><text x="575.82" y="963.63" class="lg" font-size="38.5" text-anchor="middle">+</text><text x="594.7" y="960" class="mi" font-size="28.05">D</text><text x="610.55" y="955.05" class="lg" font-size="29.7" text-anchor="middle">&#732;</text><text x="616.93" y="964.62" class="lg" font-size="19.25">6</text><text x="645.42" y="963.63" class="lg" font-size="38.5" text-anchor="middle">+</text><text x="664.5" y="960" class="mi" font-size="28.05">D</text><text x="680.35" y="955.05" class="lg" font-size="29.7" text-anchor="middle">&#732;</text><text x="686.73" y="964.62" class="lg" font-size="19.25">7</text><text x="715.22" y="963.63" class="lg" font-size="38.5" text-anchor="middle">+</text><text x="734.3" y="960" class="mi" font-size="28.05">D</text><text x="750.15" y="955.05" class="lg" font-size="29.7" text-anchor="middle">&#732;</text><text x="756.53" y="964.62" class="lg" font-size="19.25">8</text><text x="785.02" y="963.63" class="lg" font-size="38.5" text-anchor="middle">+</text><text x="803.9" y="960" class="mi" font-size="28.05">D</text><text x="819.75" y="955.05" class="lg" font-size="29.7" text-anchor="middle">&#732;</text><text x="826.13" y="964.62" class="lg" font-size="19.25">9</text>
<text x="524.7" y="995.8" class="lg" font-size="27.28" textLength="257.6" lengthAdjust="spacingAndGlyphs">Extinction Spectrum</text>
<path d="M495 1045.4L482.8 1022.4L507.2 1022.4Z" fill="#FF0000"/>
<rect x="493.4" y="1013.7" width="3.2" height="9.2" fill="#FF0000"/>
<text x="425.7" y="1031.9" class="an" fill="#FF0000" textLength="50.8" lengthAdjust="spacingAndGlyphs">0.53</text>
<path d="M570.8 1054.9L558.6 1031L583 1031Z" fill="#0000FF"/>
<rect x="569.2" y="1022.4" width="3.2" height="9.1" fill="#0000FF"/>
<text x="588.2" y="1033.2" class="an" fill="#0000FF" textLength="35.3" lengthAdjust="spacingAndGlyphs">0.8</text>
<clipPath id="clip_d"><rect x="399.2" y="1406.6" width="399.5" height="295.8"/></clipPath>
<path d="M401.8 1702.4V1699.8M401.8 1409.6V1412.2M429.96 1702.4V1699.8M429.96 1409.6V1412.2M458.13 1702.4V1699.8M458.13 1409.6V1412.2M486.29 1702.4V1698M486.29 1409.6V1414M514.46 1702.4V1699.8M514.46 1409.6V1412.2M542.62 1702.4V1699.8M542.62 1409.6V1412.2M570.79 1702.4V1699.8M570.79 1409.6V1412.2M598.95 1702.4V1699.8M598.95 1409.6V1412.2M627.11 1702.4V1698M627.11 1409.6V1414M655.28 1702.4V1699.8M655.28 1409.6V1412.2M683.44 1702.4V1699.8M683.44 1409.6V1412.2M711.61 1702.4V1699.8M711.61 1409.6V1412.2M739.77 1702.4V1699.8M739.77 1409.6V1412.2M767.94 1702.4V1698M767.94 1409.6V1414M796.1 1702.4V1699.8M796.1 1409.6V1412.2M401.8 1702.4H406.2M796.1 1702.4H791.7M401.8 1673.12H404.4M796.1 1673.12H793.5M401.8 1643.84H404.4M796.1 1643.84H793.5M401.8 1614.56H404.4M796.1 1614.56H793.5M401.8 1585.28H404.4M796.1 1585.28H793.5M401.8 1556H406.2M796.1 1556H791.7M401.8 1526.72H404.4M796.1 1526.72H793.5M401.8 1497.44H404.4M796.1 1497.44H793.5M401.8 1468.16H404.4M796.1 1468.16H793.5M401.8 1438.88H404.4M796.1 1438.88H793.5M401.8 1409.6H406.2M796.1 1409.6H791.7" stroke="#262626" stroke-width="1.3" fill="none"/>
<rect x="401.5" y="1409.5" width="395" height="293" fill="none" stroke="#262626" stroke-width="1.3"/>
<text x="486.29" y="1740.7" text-anchor="middle" class="tk">0.5</text>
<text x="627.11" y="1740.7" text-anchor="middle" class="tk">1</text>
<text x="767.94" y="1740.7" text-anchor="middle" class="tk">1.5</text>
<text x="392.8" y="1712.6" text-anchor="end" class="tk">0</text>
<text x="392.8" y="1566.2" text-anchor="end" class="tk">0.5</text>
<text x="392.8" y="1419.8" text-anchor="end" class="tk">1</text>
<path d="M402.5 1608.42C403.01 1606.59 404.44 1600.07 405.56 1597.42C406.68 1594.77 408.21 1592.73 409.23 1592.52C410.25 1592.32 410.86 1594.56 411.68 1596.19C412.49 1597.82 413.1 1602.92 414.12 1602.31C415.14 1601.7 416.57 1593.54 417.79 1592.52C419.02 1591.51 420.24 1595.17 421.46 1596.19C422.68 1597.21 423.91 1599.86 425.13 1598.64C426.35 1597.42 427.58 1590.69 428.8 1588.86C430.02 1587.02 431.25 1587.43 432.47 1587.63C433.69 1587.84 434.92 1589.87 436.14 1590.08C437.36 1590.28 438.59 1588.45 439.81 1588.86C441.03 1589.26 442.05 1590.89 443.48 1592.52C444.9 1594.16 446.74 1597.21 448.37 1598.64C450 1600.07 451.84 1601.09 453.26 1601.09C454.69 1601.09 455.71 1599.66 456.93 1598.64C458.15 1597.62 459.17 1595.79 460.6 1594.97C462.03 1594.16 464.07 1594.77 465.49 1593.75C466.92 1592.73 467.94 1590.08 469.16 1588.86C470.39 1587.63 471.61 1586.21 472.83 1586.41C474.05 1586.61 475.28 1588.65 476.5 1590.08C477.72 1591.51 479.15 1594.97 480.17 1594.97C481.19 1594.97 481.6 1592.12 482.62 1590.08C483.64 1588.04 485.06 1584.78 486.29 1582.74C487.51 1580.7 488.73 1585.8 489.95 1577.85C491.18 1569.9 492.5 1543.6 493.62 1535.04C494.75 1526.48 495.66 1526.89 496.68 1526.48C497.7 1526.07 498.62 1524.03 499.74 1532.59C500.86 1541.15 502.39 1569.29 503.41 1577.85C504.43 1586.41 504.63 1584.37 505.86 1583.96C507.08 1583.56 509.12 1577.85 510.75 1575.4C512.38 1572.95 514.21 1569.9 515.64 1569.29C517.07 1568.67 518.09 1570.3 519.31 1571.73C520.53 1573.16 521.76 1576.22 522.98 1577.85C524.2 1579.48 525.42 1580.7 526.65 1581.52C527.87 1582.33 529.09 1581.72 530.32 1582.74C531.54 1583.76 532.76 1587.22 533.99 1587.63C535.21 1588.04 536.23 1585.59 537.66 1585.19C539.08 1584.78 540.92 1585.39 542.55 1585.19C544.18 1584.98 545.81 1584.98 547.44 1583.96C549.07 1582.94 550.91 1579.68 552.33 1579.07C553.76 1578.46 554.58 1580.5 556 1580.29C557.43 1580.09 559.67 1578.46 560.89 1577.85C562.12 1577.24 562.32 1580.7 563.34 1576.62C564.36 1572.55 565.79 1561.34 567.01 1553.39C568.23 1545.44 569.66 1534.43 570.68 1528.92C571.7 1523.42 572.11 1520.77 573.13 1520.36C574.14 1519.95 575.57 1521.99 576.79 1526.48C578.02 1530.96 579.24 1540.75 580.46 1547.27C581.69 1553.79 582.71 1559.5 584.13 1565.62C585.56 1571.73 587.19 1580.91 589.03 1583.96C590.86 1587.02 593.71 1583.76 595.14 1583.96C596.57 1584.17 597.28 1584.17 597.59 1585.19C597.9 1586.21 596.28 1588.24 597 1590.08C597.72 1591.91 600.47 1593.75 601.89 1596.19C603.32 1598.64 604.13 1603.33 605.56 1604.76C606.99 1606.18 609.03 1604.35 610.45 1604.76C611.88 1605.16 612.7 1607.81 614.12 1607.2C615.55 1606.59 617.59 1603.53 619.02 1601.09C620.44 1598.64 621.26 1593.54 622.68 1592.52C624.11 1591.51 625.95 1594.36 627.58 1594.97C629.21 1595.58 631.04 1595.99 632.47 1596.19C633.9 1596.4 634.71 1595.79 636.14 1596.19C637.57 1596.6 639.4 1598.03 641.03 1598.64C642.66 1599.25 644.29 1599.05 645.92 1599.86C647.55 1600.68 649.19 1602.31 650.82 1603.53C652.45 1604.76 654.28 1608.42 655.71 1607.2C657.14 1605.98 657.95 1598.84 659.38 1596.19C660.8 1593.54 662.64 1591.3 664.27 1591.3C665.9 1591.3 667.74 1594.56 669.16 1596.19C670.59 1597.82 671.4 1600.07 672.83 1601.09C674.26 1602.11 676.3 1605.57 677.72 1602.31C679.15 1599.05 680.17 1584.98 681.39 1581.52C682.62 1578.05 683.84 1579.07 685.06 1581.52C686.29 1583.96 687.1 1593.75 688.73 1596.19C690.36 1598.64 692.81 1596.19 694.85 1596.19C696.89 1596.19 699.13 1598.44 700.96 1596.19C702.8 1593.95 704.43 1585.19 705.86 1582.74C707.28 1580.29 708.3 1580.29 709.52 1581.52C710.75 1582.74 711.77 1588.04 713.19 1590.08C714.62 1592.12 716.25 1593.34 718.09 1593.75C719.92 1594.16 722.37 1593.95 724.2 1592.52C726.04 1591.1 727.67 1586.21 729.09 1585.19C730.52 1584.17 731.34 1585.8 732.76 1586.41C734.19 1587.02 736.23 1587.43 737.66 1588.86C739.08 1590.28 740.1 1592.93 741.32 1594.97C742.55 1597.01 743.57 1600.07 744.99 1601.09C746.42 1602.11 748.26 1602.31 749.89 1601.09C751.52 1599.86 753.35 1594.77 754.78 1593.75C756.21 1592.73 757.23 1593.95 758.45 1594.97C759.67 1595.99 760.49 1598.64 762.12 1599.86C763.75 1601.09 766.4 1600.88 768.23 1602.31C770.07 1603.74 771.49 1607.2 773.13 1608.42C774.76 1609.65 776.39 1609.85 778.02 1609.65C779.65 1609.44 781.28 1608.22 782.91 1607.2C784.54 1606.18 786.17 1604.55 787.8 1603.53C789.43 1602.51 791.06 1601.9 792.69 1601.09C794.33 1600.27 796.77 1599.05 797.59 1598.64" fill="none" stroke="#7E2F8E" stroke-width="5.5" stroke-linejoin="round" stroke-linecap="round" clip-path="url(#clip_d)"/>
<polyline points="400.67,1631.66 403.12,1636.56 404.95,1631.03 406.78,1623.52 408.62,1621.69 410.15,1626.39 411.68,1635.12 414.12,1628.43 416.57,1620.49 418.1,1622.24 419.63,1627.31 421.16,1624.74 422.68,1624.84 425.13,1636.63 427.58,1616.93 430.02,1613.82 431.86,1617.08 433.69,1617.18 436.14,1622.51 437.97,1618.82 439.81,1617.6 441.64,1617.48 443.48,1620.36 445.31,1625.6 446.84,1620.68 448.37,1612.15 450.82,1612.97 453.26,1619.53 455.1,1618.06 456.93,1612.72 458.77,1609.98 460.6,1604.19 463.05,1600.35 465.49,1606.44 467.33,1605.79 469.16,1601.42 471.61,1595.59 473.44,1596.33 475.28,1601 477.11,1602.88 478.95,1608 480.78,1602.31 482.62,1597.42 484.45,1595.58 486.29,1593.75 488.12,1590.69 489.95,1587.63 491.79,1587.63 493.62,1587.63 496.07,1555.83 497.91,1560.72 499.74,1565.62 502.19,1592.52 504.02,1593.14 505.86,1593.75 507.69,1598.03 509.52,1602.31 511.97,1590.08 513.81,1581.52 515.64,1572.95 517.47,1575.4 519.31,1577.85 521.14,1581.52 522.98,1585.19 524.81,1588.86 526.65,1592.52 529.09,1602.31 531.54,1619.43 533.37,1610.87 535.21,1602.31 537.04,1604.76 538.88,1607.2 540.71,1596.19 542.55,1585.19 544.38,1586.41 546.22,1587.63 548.05,1597.42 549.89,1607.2 551.72,1597.42 553.56,1587.63 556,1585.19 557.84,1594.97 559.67,1604.76 561.51,1596.19 563.34,1587.63 564.97,1583.96 566.6,1580.29 568.23,1576.62 570.68,1553.39 573.13,1532.59 574.96,1539.93 576.79,1547.27 578.63,1553.39 580.46,1559.5 582.3,1571.73 584.13,1583.96 585.97,1591.3 587.8,1598.64 590.25,1585.19 592.69,1598.64 594.33,1593.75 595.96,1588.86 597.59,1583.96 597,1583.96 598.83,1590.69 600.67,1595.69 602.5,1593.98 604.34,1585.36 606.78,1602.7 609.23,1590.37 611.07,1591.15 612.9,1584.58 614.73,1588.92 616.57,1586.08 618.4,1587.67 620.24,1583.53 622.68,1584.32 624.52,1583.24 626.35,1588.42 628.19,1584.44 630.02,1586.7 631.86,1587.58 633.69,1595.7 635.53,1600.87 637.36,1613.83 639.2,1602.32 641.03,1596.97 643.48,1588 645.31,1594.35 647.15,1593.08 648.98,1597.75 650.82,1595.89 652.45,1601.51 654.08,1601.23 655.71,1606.53 657.34,1603.55 658.97,1607.48 660.6,1605.33 663.05,1596.78 665.49,1591.48 667.12,1600.81 668.75,1605.54 670.39,1615.71 672.83,1596.13 674.46,1599.93 676.09,1597.31 677.72,1601.73 679.35,1592.53 680.99,1589.77 682.62,1581.84 684.25,1587.85 685.88,1589.76 687.51,1596.54 689.95,1607.82 691.79,1602.24 693.62,1591.13 696.07,1593.42 698.52,1607.02 700.96,1613.02 702.8,1599.69 704.63,1594.59 706.47,1598.69 708.3,1610.31 710.14,1598.95 711.97,1595.04 714.42,1590.24 716.25,1601.65 718.09,1604.86 719.92,1596.32 721.76,1582.53 724.2,1602.27 726.04,1598.6 727.87,1600.68 729.71,1595.57 731.54,1596.11 733.99,1599.79 735.62,1604.79 737.25,1602.06 738.88,1606.54 740.71,1605.01 742.55,1610.17 744.38,1613.2 746.22,1622.6 748.05,1606.38 749.89,1596.24 751.52,1601.76 753.15,1612.96 754.78,1616.94 756.61,1614.07 758.45,1602.19 760.08,1603.57 761.71,1597.6 763.34,1598.34 765.18,1602.81 767.01,1614.69 768.84,1600.66 770.68,1593.99 772.51,1601.46 774.35,1614.83 775.98,1605.92 777.61,1606.12 779.24,1596.73 781.69,1620.83 783.52,1607.98 785.36,1599.8 787.19,1602.64 789.03,1611.69 790.86,1610.69 792.69,1618.13 795.14,1591.43 796.67,1594.73 798.2,1592.52" fill="none" stroke="#77AC30" stroke-width="5.5" stroke-linejoin="round" stroke-linecap="round" clip-path="url(#clip_d)"/>
<line x1="402.3" y1="1539.31" x2="794.1" y2="1539.31" stroke="#000" stroke-width="5.4" stroke-dasharray="5.2 5.2"/>
<text x="598.45" y="1778.7" text-anchor="middle" class="lb">Frequency (THz)</text>
<text transform="translate(333.8,1556.3) rotate(-90)" x="-33.5" y="0" class="mi" font-size="37" textLength="67" lengthAdjust="spacing">&#946;<tspan class="rm">(</tspan>f<tspan class="rm">)</tspan></text>
<text x="411" y="1687.5" class="pl">(d)</text>
<rect x="531" y="1381.7" width="309.4" height="84.2" fill="#fff" stroke="#262626" stroke-width="1.3"/>
<line x1="535" y1="1404.4" x2="573.9" y2="1404.4" stroke="#7E2F8E" stroke-width="5.9"/>
<line x1="535" y1="1444.7" x2="573.9" y2="1444.7" stroke="#77AC30" stroke-width="5.9"/>
<text x="577.5" y="1412.8" class="mi" font-size="28.05">D</text><text x="593.35" y="1407.85" class="lg" font-size="29.7" text-anchor="middle">&#732;</text><text x="599.73" y="1417.42" class="lg" font-size="19.25">5</text><text x="628.22" y="1416.43" class="lg" font-size="38.5" text-anchor="middle">+</text><text x="647.3" y="1412.8" class="mi" font-size="28.05">D</text><text x="663.15" y="1407.85" class="lg" font-size="29.7" text-anchor="middle">&#732;</text><text x="669.53" y="1417.42" class="lg" font-size="19.25">7</text><text x="698.02" y="1416.43" class="lg" font-size="38.5" text-anchor="middle">+</text><text x="716.9" y="1412.8" class="mi" font-size="28.05">D</text><text x="732.75" y="1407.85" class="lg" font-size="29.7" text-anchor="middle">&#732;</text><text x="739.13" y="1417.42" class="lg" font-size="19.25">8</text><text x="767.62" y="1416.43" class="lg" font-size="38.5" text-anchor="middle">+</text><text x="786.3" y="1412.8" class="mi" font-size="28.05">D</text><text x="802.15" y="1407.85" class="lg" font-size="29.7" text-anchor="middle">&#732;</text><text x="808.53" y="1417.42" class="lg" font-size="19.25">9</text>
<text x="577.2" y="1451.2" class="lg" font-size="27.28" textLength="258.3" lengthAdjust="spacingAndGlyphs">Extinction Spectrum</text>
<path d="M494.4 1521.5L482.2 1498.5L506.6 1498.5Z" fill="#FF0000"/>
<rect x="492.8" y="1489.8" width="3.2" height="9.2" fill="#FF0000"/>
<text x="472.3" y="1479.5" class="an" fill="#FF0000" textLength="50.8" lengthAdjust="spacingAndGlyphs">0.53</text>
<path d="M572.2 1515.5L560 1491.7L584.4 1491.7Z" fill="#0000FF"/>
<rect x="570.6" y="1483" width="3.2" height="9.2" fill="#0000FF"/>
<text x="586" y="1497.1" class="an" fill="#0000FF" textLength="35.3" lengthAdjust="spacingAndGlyphs">0.8</text>
<path d="M932.7 344V339.6M932.7 56.8V61.2M947.1 344V341.4M947.1 56.8V59.4M961.5 344V341.4M961.5 56.8V59.4M975.9 344V341.4M975.9 56.8V59.4M990.3 344V339.6M990.3 56.8V61.2M1004.7 344V341.4M1004.7 56.8V59.4M1019.1 344V341.4M1019.1 56.8V59.4M1033.5 344V341.4M1033.5 56.8V59.4M1047.9 344V339.6M1047.9 56.8V61.2M1062.3 344V341.4M1062.3 56.8V59.4M1076.7 344V341.4M1076.7 56.8V59.4M1091.1 344V341.4M1091.1 56.8V59.4M1105.5 344V339.6M1105.5 56.8V61.2M1119.9 344V341.4M1119.9 56.8V59.4M1134.3 344V341.4M1134.3 56.8V59.4M1148.7 344V341.4M1148.7 56.8V59.4M1163.1 344V339.6M1163.1 56.8V61.2M1177.5 344V341.4M1177.5 56.8V59.4M1191.9 344V341.4M1191.9 56.8V59.4M1206.3 344V341.4M1206.3 56.8V59.4M1220.7 344V339.6M1220.7 56.8V61.2M932.7 344H937.1M1220.7 344H1216.3M932.7 329.64H935.3M1220.7 329.64H1218.1M932.7 315.28H935.3M1220.7 315.28H1218.1M932.7 300.92H935.3M1220.7 300.92H1218.1M932.7 286.56H937.1M1220.7 286.56H1216.3M932.7 272.2H935.3M1220.7 272.2H1218.1M932.7 257.84H935.3M1220.7 257.84H1218.1M932.7 243.48H935.3M1220.7 243.48H1218.1M932.7 229.12H937.1M1220.7 229.12H1216.3M932.7 214.76H935.3M1220.7 214.76H1218.1M932.7 200.4H935.3M1220.7 200.4H1218.1M932.7 186.04H935.3M1220.7 186.04H1218.1M932.7 171.68H937.1M1220.7 171.68H1216.3M932.7 157.32H935.3M1220.7 157.32H1218.1M932.7 142.96H935.3M1220.7 142.96H1218.1M932.7 128.6H935.3M1220.7 128.6H1218.1M932.7 114.24H937.1M1220.7 114.24H1216.3M932.7 99.88H935.3M1220.7 99.88H1218.1M932.7 85.52H935.3M1220.7 85.52H1218.1M932.7 71.16H935.3M1220.7 71.16H1218.1M932.7 56.8H937.1M1220.7 56.8H1216.3" stroke="#262626" stroke-width="1.3" fill="none"/>
<rect x="932.5" y="56.5" width="288" height="288" fill="none" stroke="#262626" stroke-width="1.3"/>
<text x="932.7" y="384" text-anchor="middle" class="tk2">0</text>
<text x="990.3" y="384" text-anchor="middle" class="tk2">0.2</text>
<text x="1047.9" y="384" text-anchor="middle" class="tk2">0.4</text>
<text x="1105.5" y="384" text-anchor="middle" class="tk2">0.6</text>
<text x="1163.1" y="384" text-anchor="middle" class="tk2">0.8</text>
<text x="1220.7" y="384" text-anchor="middle" class="tk2">1</text>
<text x="923.2" y="356.3" text-anchor="end" class="tk2">0</text>
<text x="923.2" y="298.86" text-anchor="end" class="tk2">0.2</text>
<text x="923.2" y="241.42" text-anchor="end" class="tk2">0.4</text>
<text x="923.2" y="183.98" text-anchor="end" class="tk2">0.6</text>
<text x="923.2" y="126.54" text-anchor="end" class="tk2">0.8</text>
<text x="923.2" y="69.1" text-anchor="end" class="tk2">1</text>
<polyline points="933.96,343.69 936.41,332.68 937.63,305.77 942.52,298.43 944.97,291.1 949.86,276.42 952.31,261.74 954.76,244.62 957.2,234.83 959.65,220.16 963.32,207.93 966.99,195.69 971.88,185.91 976.77,176.13 979.22,168.79 984.11,161.45 989,156.56 991.45,149.22 995.12,139.43 998.79,136.99 1001.23,132.09 1006.13,127.2 1011.02,122.31 1013.46,114.97 1015.91,110.08 1020.8,107.63 1025.69,105.19 1030.59,96.62 1037.93,95.4 1045.26,92.95 1047.71,88.06 1055.05,86.84 1062.39,84.39 1072.17,83.17 1079.51,80.72 1084.4,75.83 1089.3,74.61 1111.31,74.61 1123.54,74.61 1128.43,73.39 1143.11,70.94 1155.34,68.49 1167.57,64.82 1184.7,63.6 1196.93,61.15 1206.71,57.49 1220.66,56.75" fill="none" stroke="#77AC30" stroke-width="5.5" stroke-linejoin="round" stroke-linecap="round"/>
<polyline points="932.74,343.69 933.23,269.08 934.21,234.83 935.68,195.69 936.9,171.23 937.63,146.77 939.34,127.2 942.52,117.42 947.42,110.08 952.31,102.74 955.98,95.4 962.09,94.18 966.99,88.06 974.32,85.62 979.22,81.95 986.56,79.5 996.34,77.05 1003.68,74.61 1015.91,73.39 1023.25,72.9 1030.59,70.45 1040.37,69.72 1047.71,68 1050.16,66.05 1062.39,64.82 1074.62,64.09 1099.08,63.11 1121.1,62.38 1130.88,58.22 1138.22,56.75 1220.66,56.75" fill="none" stroke="#7E2F8E" stroke-width="5.5" stroke-linejoin="round" stroke-linecap="round"/>
<text x="1077.4" y="424.8" text-anchor="middle" class="lb2">FPR</text>
<text transform="translate(866.9,200.9) rotate(-90)" text-anchor="middle" class="lb2">TPR</text>
<text x="1076.7" y="44.8" text-anchor="middle" class="tt"><tspan class="mi" font-size="38">&#945;</tspan>-Lactose</text>
<text x="945.8" y="329.8" class="pl">(e)</text>
<path d="M935.7 799V794.6M935.7 512V516.4M950.11 799V796.4M950.11 512V514.6M964.51 799V796.4M964.51 512V514.6M978.92 799V796.4M978.92 512V514.6M993.32 799V794.6M993.32 512V516.4M1007.73 799V796.4M1007.73 512V514.6M1022.13 799V796.4M1022.13 512V514.6M1036.54 799V796.4M1036.54 512V514.6M1050.94 799V794.6M1050.94 512V516.4M1065.35 799V796.4M1065.35 512V514.6M1079.75 799V796.4M1079.75 512V514.6M1094.15 799V796.4M1094.15 512V514.6M1108.56 799V794.6M1108.56 512V516.4M1122.96 799V796.4M1122.96 512V514.6M1137.37 799V796.4M1137.37 512V514.6M1151.78 799V796.4M1151.78 512V514.6M1166.18 799V794.6M1166.18 512V516.4M1180.59 799V796.4M1180.59 512V514.6M1194.99 799V796.4M1194.99 512V514.6M1209.39 799V796.4M1209.39 512V514.6M1223.8 799V794.6M1223.8 512V516.4M935.7 799H940.1M1223.8 799H1219.4M935.7 784.65H938.3M1223.8 784.65H1221.2M935.7 770.3H938.3M1223.8 770.3H1221.2M935.7 755.95H938.3M1223.8 755.95H1221.2M935.7 741.6H940.1M1223.8 741.6H1219.4M935.7 727.25H938.3M1223.8 727.25H1221.2M935.7 712.9H938.3M1223.8 712.9H1221.2M935.7 698.55H938.3M1223.8 698.55H1221.2M935.7 684.2H940.1M1223.8 684.2H1219.4M935.7 669.85H938.3M1223.8 669.85H1221.2M935.7 655.5H938.3M1223.8 655.5H1221.2M935.7 641.15H938.3M1223.8 641.15H1221.2M935.7 626.8H940.1M1223.8 626.8H1219.4M935.7 612.45H938.3M1223.8 612.45H1221.2M935.7 598.1H938.3M1223.8 598.1H1221.2M935.7 583.75H938.3M1223.8 583.75H1221.2M935.7 569.4H940.1M1223.8 569.4H1219.4M935.7 555.05H938.3M1223.8 555.05H1221.2M935.7 540.7H938.3M1223.8 540.7H1221.2M935.7 526.35H938.3M1223.8 526.35H1221.2M935.7 512H940.1M1223.8 512H1219.4" stroke="#262626" stroke-width="1.3" fill="none"/>
<rect x="935.5" y="512.5" width="288" height="287" fill="none" stroke="#262626" stroke-width="1.3"/>
<text x="935.7" y="839" text-anchor="middle" class="tk2">0</text>
<text x="993.32" y="839" text-anchor="middle" class="tk2">0.2</text>
<text x="1050.94" y="839" text-anchor="middle" class="tk2">0.4</text>
<text x="1108.56" y="839" text-anchor="middle" class="tk2">0.6</text>
<text x="1166.18" y="839" text-anchor="middle" class="tk2">0.8</text>
<text x="1223.8" y="839" text-anchor="middle" class="tk2">1</text>
<text x="926.2" y="811.3" text-anchor="end" class="tk2">0</text>
<text x="926.2" y="753.9" text-anchor="end" class="tk2">0.2</text>
<text x="926.2" y="696.5" text-anchor="end" class="tk2">0.4</text>
<text x="926.2" y="639.1" text-anchor="end" class="tk2">0.6</text>
<text x="926.2" y="581.7" text-anchor="end" class="tk2">0.8</text>
<text x="926.2" y="524.3" text-anchor="end" class="tk2">1</text>
<polyline points="937.63,799.04 938.86,741.31 940.08,692.39 942.52,667.93 944.97,645.91 947.42,626.34 949.86,616.56 952.31,601.88 957.2,594.54 962.09,587.2 964.54,577.42 969.43,571.3 974.32,565.19 979.22,557.85 986.56,554.18 991.45,549.29 996.34,546.84 1001.23,540.72 1006.13,539.5 1015.91,535.83 1025.69,535.83 1035.48,532.16 1045.26,530.94 1059.94,530.94 1067.28,526.05 1074.62,523.6 1086.85,522.38 1099.08,519.93 1111.31,518.71 1116.2,516.75 1148,516.75 1189.59,516.75 1196.93,513.82 1223.84,511.86" fill="none" stroke="#77AC30" stroke-width="5.5" stroke-linejoin="round" stroke-linecap="round"/>
<polyline points="935.68,799.04 936.65,753.54 937.63,655.69 938.86,567.63 942.52,562.74 943.75,543.17 947.42,538.28 952.31,532.16 959.65,528.49 966.99,524.09 976.77,519.93 986.56,518.71 993.89,515.04 1001.23,514.31 1025.69,514.31 1033.03,512.59 1050.16,512.59 1057.5,511.37 1223.84,511.37" fill="none" stroke="#7E2F8E" stroke-width="5.5" stroke-linejoin="round" stroke-linecap="round"/>
<text x="1080.45" y="879.8" text-anchor="middle" class="lb2">FPR</text>
<text transform="translate(869.9,656) rotate(-90)" text-anchor="middle" class="lb2">TPR</text>
<text x="1079.75" y="500" text-anchor="middle" class="tt"><tspan class="mi" font-size="38">&#945;</tspan>-Lactose</text>
<text x="944.8" y="781.9" class="pl">(f)</text>
<path d="M932.2 1255.6V1251.2M932.2 968.7V973.1M946.6 1255.6V1253M946.6 968.7V971.3M961 1255.6V1253M961 968.7V971.3M975.4 1255.6V1253M975.4 968.7V971.3M989.8 1255.6V1251.2M989.8 968.7V973.1M1004.2 1255.6V1253M1004.2 968.7V971.3M1018.6 1255.6V1253M1018.6 968.7V971.3M1033 1255.6V1253M1033 968.7V971.3M1047.4 1255.6V1251.2M1047.4 968.7V973.1M1061.8 1255.6V1253M1061.8 968.7V971.3M1076.2 1255.6V1253M1076.2 968.7V971.3M1090.6 1255.6V1253M1090.6 968.7V971.3M1105 1255.6V1251.2M1105 968.7V973.1M1119.4 1255.6V1253M1119.4 968.7V971.3M1133.8 1255.6V1253M1133.8 968.7V971.3M1148.2 1255.6V1253M1148.2 968.7V971.3M1162.6 1255.6V1251.2M1162.6 968.7V973.1M1177 1255.6V1253M1177 968.7V971.3M1191.4 1255.6V1253M1191.4 968.7V971.3M1205.8 1255.6V1253M1205.8 968.7V971.3M1220.2 1255.6V1251.2M1220.2 968.7V973.1M932.2 1255.6H936.6M1220.2 1255.6H1215.8M932.2 1241.25H934.8M1220.2 1241.25H1217.6M932.2 1226.91H934.8M1220.2 1226.91H1217.6M932.2 1212.56H934.8M1220.2 1212.56H1217.6M932.2 1198.22H936.6M1220.2 1198.22H1215.8M932.2 1183.88H934.8M1220.2 1183.88H1217.6M932.2 1169.53H934.8M1220.2 1169.53H1217.6M932.2 1155.18H934.8M1220.2 1155.18H1217.6M932.2 1140.84H936.6M1220.2 1140.84H1215.8M932.2 1126.49H934.8M1220.2 1126.49H1217.6M932.2 1112.15H934.8M1220.2 1112.15H1217.6M932.2 1097.81H934.8M1220.2 1097.81H1217.6M932.2 1083.46H936.6M1220.2 1083.46H1215.8M932.2 1069.12H934.8M1220.2 1069.12H1217.6M932.2 1054.77H934.8M1220.2 1054.77H1217.6M932.2 1040.42H934.8M1220.2 1040.42H1217.6M932.2 1026.08H936.6M1220.2 1026.08H1215.8M932.2 1011.74H934.8M1220.2 1011.74H1217.6M932.2 997.39H934.8M1220.2 997.39H1217.6M932.2 983.05H934.8M1220.2 983.05H1217.6M932.2 968.7H936.6M1220.2 968.7H1215.8" stroke="#262626" stroke-width="1.3" fill="none"/>
<rect x="932.5" y="968.5" width="288" height="287" fill="none" stroke="#262626" stroke-width="1.3"/>
<text x="932.2" y="1295.6" text-anchor="middle" class="tk2">0</text>
<text x="989.8" y="1295.6" text-anchor="middle" class="tk2">0.2</text>
<text x="1047.4" y="1295.6" text-anchor="middle" class="tk2">0.4</text>
<text x="1105" y="1295.6" text-anchor="middle" class="tk2">0.6</text>
<text x="1162.6" y="1295.6" text-anchor="middle" class="tk2">0.8</text>
<text x="1220.2" y="1295.6" text-anchor="middle" class="tk2">1</text>
<text x="922.7" y="1267.9" text-anchor="end" class="tk2">0</text>
<text x="922.7" y="1210.52" text-anchor="end" class="tk2">0.2</text>
<text x="922.7" y="1153.14" text-anchor="end" class="tk2">0.4</text>
<text x="922.7" y="1095.76" text-anchor="end" class="tk2">0.6</text>
<text x="922.7" y="1038.38" text-anchor="end" class="tk2">0.8</text>
<text x="922.7" y="981" text-anchor="end" class="tk2">1</text>
<polyline points="933.96,1255.65 935.19,1228 937.63,1191.31 940.08,1179.08 942.52,1142.39 944.97,1120.37 949.86,1113.03 954.76,1095.91 957.2,1086.13 962.09,1076.34 964.54,1066.56 969.43,1056.77 974.32,1039.65 979.22,1034.76 984.11,1024.97 989,1017.63 996.34,1015.19 998.79,1010.29 1006.13,1006.62 1015.91,1002.95 1023.25,1001.73 1025.69,996.84 1033.03,994.39 1042.82,993.17 1047.71,990.72 1055.05,984.61 1059.94,982.16 1084.4,980.94 1089.3,980.45 1113.76,979.72 1118.65,977.27 1128.43,973.6 1148,973.11 1177.36,971.15 1220.17,968.71" fill="none" stroke="#77AC30" stroke-width="5.5" stroke-linejoin="round" stroke-linecap="round"/>
<polyline points="932.25,1255.65 932.74,1179.08 933.96,1144.83 935.19,1105.69 936.41,1056.77 937.63,1032.31 941.3,1012.74 942.52,1000.51 947.42,988.28 952.31,980.94 954.76,977.27 964.54,975.56 981.66,974.82 986.56,972.38 991.45,969.93 1001.23,968.71 1220.17,968.71" fill="none" stroke="#7E2F8E" stroke-width="5.5" stroke-linejoin="round" stroke-linecap="round"/>
<text x="1076.9" y="1336.4" text-anchor="middle" class="lb2">FPR</text>
<text transform="translate(866.4,1112.65) rotate(-90)" text-anchor="middle" class="lb2">TPR</text>
<text x="1076.2" y="956.7" text-anchor="middle" class="tt"><tspan class="mi" font-size="38">&#945;</tspan>-Lactose</text>
<text x="944.8" y="1239.2" class="pl">(g)</text>
<path d="M932.7 1705.9V1701.5M932.7 1418.4V1422.8M947.1 1705.9V1703.3M947.1 1418.4V1421M961.5 1705.9V1703.3M961.5 1418.4V1421M975.9 1705.9V1703.3M975.9 1418.4V1421M990.3 1705.9V1701.5M990.3 1418.4V1422.8M1004.7 1705.9V1703.3M1004.7 1418.4V1421M1019.1 1705.9V1703.3M1019.1 1418.4V1421M1033.5 1705.9V1703.3M1033.5 1418.4V1421M1047.9 1705.9V1701.5M1047.9 1418.4V1422.8M1062.3 1705.9V1703.3M1062.3 1418.4V1421M1076.7 1705.9V1703.3M1076.7 1418.4V1421M1091.1 1705.9V1703.3M1091.1 1418.4V1421M1105.5 1705.9V1701.5M1105.5 1418.4V1422.8M1119.9 1705.9V1703.3M1119.9 1418.4V1421M1134.3 1705.9V1703.3M1134.3 1418.4V1421M1148.7 1705.9V1703.3M1148.7 1418.4V1421M1163.1 1705.9V1701.5M1163.1 1418.4V1422.8M1177.5 1705.9V1703.3M1177.5 1418.4V1421M1191.9 1705.9V1703.3M1191.9 1418.4V1421M1206.3 1705.9V1703.3M1206.3 1418.4V1421M1220.7 1705.9V1701.5M1220.7 1418.4V1422.8M932.7 1705.9H937.1M1220.7 1705.9H1216.3M932.7 1691.53H935.3M1220.7 1691.53H1218.1M932.7 1677.15H935.3M1220.7 1677.15H1218.1M932.7 1662.78H935.3M1220.7 1662.78H1218.1M932.7 1648.4H937.1M1220.7 1648.4H1216.3M932.7 1634.03H935.3M1220.7 1634.03H1218.1M932.7 1619.65H935.3M1220.7 1619.65H1218.1M932.7 1605.28H935.3M1220.7 1605.28H1218.1M932.7 1590.9H937.1M1220.7 1590.9H1216.3M932.7 1576.53H935.3M1220.7 1576.53H1218.1M932.7 1562.15H935.3M1220.7 1562.15H1218.1M932.7 1547.78H935.3M1220.7 1547.78H1218.1M932.7 1533.4H937.1M1220.7 1533.4H1216.3M932.7 1519.03H935.3M1220.7 1519.03H1218.1M932.7 1504.65H935.3M1220.7 1504.65H1218.1M932.7 1490.28H935.3M1220.7 1490.28H1218.1M932.7 1475.9H937.1M1220.7 1475.9H1216.3M932.7 1461.53H935.3M1220.7 1461.53H1218.1M932.7 1447.15H935.3M1220.7 1447.15H1218.1M932.7 1432.78H935.3M1220.7 1432.78H1218.1M932.7 1418.4H937.1M1220.7 1418.4H1216.3" stroke="#262626" stroke-width="1.3" fill="none"/>
<rect x="932.5" y="1418.5" width="288" height="287" fill="none" stroke="#262626" stroke-width="1.3"/>
<text x="932.7" y="1745.9" text-anchor="middle" class="tk2">0</text>
<text x="990.3" y="1745.9" text-anchor="middle" class="tk2">0.2</text>
<text x="1047.9" y="1745.9" text-anchor="middle" class="tk2">0.4</text>
<text x="1105.5" y="1745.9" text-anchor="middle" class="tk2">0.6</text>
<text x="1163.1" y="1745.9" text-anchor="middle" class="tk2">0.8</text>
<text x="1220.7" y="1745.9" text-anchor="middle" class="tk2">1</text>
<text x="923.2" y="1718.2" text-anchor="end" class="tk2">0</text>
<text x="923.2" y="1660.7" text-anchor="end" class="tk2">0.2</text>
<text x="923.2" y="1603.2" text-anchor="end" class="tk2">0.4</text>
<text x="923.2" y="1545.7" text-anchor="end" class="tk2">0.6</text>
<text x="923.2" y="1488.2" text-anchor="end" class="tk2">0.8</text>
<text x="923.2" y="1430.7" text-anchor="end" class="tk2">1</text>
<polyline points="934.7,1705.87 937.63,1701.47 940.08,1677 942.52,1669.67 944.97,1657.43 949.86,1632.97 952.31,1628.08 955.98,1620.74 957.2,1606.06 959.65,1588.94 962.09,1574.26 966.99,1564.48 971.88,1554.69 974.32,1544.91 976.77,1532.68 981.66,1525.34 984.11,1518 986.56,1508.22 993.89,1500.88 998.79,1493.54 1001.23,1488.65 1011.02,1478.86 1018.36,1466.63 1030.59,1462.96 1033.03,1456.85 1040.37,1449.51 1045.26,1442.17 1047.71,1433.61 1059.94,1432.39 1069.73,1428.72 1074.62,1425.05 1089.3,1423.09 1123.54,1423.09 1160.23,1423.09 1172.47,1420.64 1220.66,1418.93" fill="none" stroke="#77AC30" stroke-width="5.5" stroke-linejoin="round" stroke-linecap="round"/>
<polyline points="932.74,1705.87 933.23,1628.08 933.96,1593.83 936.41,1542.46 937.63,1520.45 940.08,1495.99 942.52,1466.63 944.97,1456.85 949.86,1447.06 952.31,1437.28 957.2,1429.94 966.99,1427.98 976.77,1425.05 986.56,1423.82 1006.13,1423.09 1025.69,1422.11 1064.83,1422.11 1074.62,1420.15 1094.19,1418.44 1220.66,1418.44" fill="none" stroke="#7E2F8E" stroke-width="5.5" stroke-linejoin="round" stroke-linecap="round"/>
<text x="1077.4" y="1786.7" text-anchor="middle" class="lb2">FPR</text>
<text transform="translate(866.9,1562.65) rotate(-90)" text-anchor="middle" class="lb2">TPR</text>
<text x="1076.7" y="1406.4" text-anchor="middle" class="tt"><tspan class="mi" font-size="38">&#945;</tspan>-Lactose</text>
<text x="949.7" y="1690.7" class="pl">(h)</text>
<path d="M1335.7 340V335.6M1335.7 50.9V55.3M1350.18 340V337.4M1350.18 50.9V53.5M1364.66 340V337.4M1364.66 50.9V53.5M1379.14 340V337.4M1379.14 50.9V53.5M1393.62 340V335.6M1393.62 50.9V55.3M1408.1 340V337.4M1408.1 50.9V53.5M1422.58 340V337.4M1422.58 50.9V53.5M1437.06 340V337.4M1437.06 50.9V53.5M1451.54 340V335.6M1451.54 50.9V55.3M1466.02 340V337.4M1466.02 50.9V53.5M1480.5 340V337.4M1480.5 50.9V53.5M1494.98 340V337.4M1494.98 50.9V53.5M1509.46 340V335.6M1509.46 50.9V55.3M1523.94 340V337.4M1523.94 50.9V53.5M1538.42 340V337.4M1538.42 50.9V53.5M1552.9 340V337.4M1552.9 50.9V53.5M1567.38 340V335.6M1567.38 50.9V55.3M1581.86 340V337.4M1581.86 50.9V53.5M1596.34 340V337.4M1596.34 50.9V53.5M1610.82 340V337.4M1610.82 50.9V53.5M1625.3 340V335.6M1625.3 50.9V55.3M1335.7 340H1340.1M1625.3 340H1620.9M1335.7 325.55H1338.3M1625.3 325.55H1622.7M1335.7 311.09H1338.3M1625.3 311.09H1622.7M1335.7 296.63H1338.3M1625.3 296.63H1622.7M1335.7 282.18H1340.1M1625.3 282.18H1620.9M1335.7 267.73H1338.3M1625.3 267.73H1622.7M1335.7 253.27H1338.3M1625.3 253.27H1622.7M1335.7 238.81H1338.3M1625.3 238.81H1622.7M1335.7 224.36H1340.1M1625.3 224.36H1620.9M1335.7 209.9H1338.3M1625.3 209.9H1622.7M1335.7 195.45H1338.3M1625.3 195.45H1622.7M1335.7 180.99H1338.3M1625.3 180.99H1622.7M1335.7 166.54H1340.1M1625.3 166.54H1620.9M1335.7 152.08H1338.3M1625.3 152.08H1622.7M1335.7 137.63H1338.3M1625.3 137.63H1622.7M1335.7 123.17H1338.3M1625.3 123.17H1622.7M1335.7 108.72H1340.1M1625.3 108.72H1620.9M1335.7 94.26H1338.3M1625.3 94.26H1622.7M1335.7 79.81H1338.3M1625.3 79.81H1622.7M1335.7 65.35H1338.3M1625.3 65.35H1622.7M1335.7 50.9H1340.1M1625.3 50.9H1620.9" stroke="#262626" stroke-width="1.3" fill="none"/>
<rect x="1335.5" y="50.5" width="290" height="290" fill="none" stroke="#262626" stroke-width="1.3"/>
<text x="1335.7" y="380" text-anchor="middle" class="tk2">0</text>
<text x="1393.62" y="380" text-anchor="middle" class="tk2">0.2</text>
<text x="1451.54" y="380" text-anchor="middle" class="tk2">0.4</text>
<text x="1509.46" y="380" text-anchor="middle" class="tk2">0.6</text>
<text x="1567.38" y="380" text-anchor="middle" class="tk2">0.8</text>
<text x="1625.3" y="380" text-anchor="middle" class="tk2">1</text>
<text x="1326.2" y="352.3" text-anchor="end" class="tk2">0</text>
<text x="1326.2" y="294.48" text-anchor="end" class="tk2">0.2</text>
<text x="1326.2" y="236.66" text-anchor="end" class="tk2">0.4</text>
<text x="1326.2" y="178.84" text-anchor="end" class="tk2">0.6</text>
<text x="1326.2" y="121.02" text-anchor="end" class="tk2">0.8</text>
<text x="1326.2" y="63.2" text-anchor="end" class="tk2">1</text>
<polyline points="1336.41,340.02 1337.63,293.54 1340.08,244.62 1342.52,215.26 1347.42,205.48 1349.86,195.69 1352.31,185.91 1354.76,171.23 1357.2,166.34 1362.09,156.56 1366.99,154.11 1371.88,149.22 1376.77,141.88 1381.66,134.54 1386.56,129.65 1391.45,122.31 1398.79,114.97 1401.23,110.08 1408.57,105.19 1425.69,105.19 1435.48,101.52 1442.82,100.29 1450.16,96.62 1459.94,91.73 1469.73,89.29 1474.62,83.17 1479.51,80.72 1499.08,79.5 1506.42,74.61 1518.65,73.39 1525.99,68.49 1535.77,66.05 1545.56,62.38 1555.34,59.93 1565.13,58.71 1572.47,56.26 1577.36,52.59 1596.93,51.86 1625.3,51.37" fill="none" stroke="#77AC30" stroke-width="5.5" stroke-linejoin="round" stroke-linecap="round"/>
<polyline points="1335.68,340.02 1337.14,281.31 1338.86,195.69 1341.3,146.77 1342.52,110.08 1344.97,97.85 1347.42,88.06 1352.31,78.28 1357.2,70.94 1362.09,68.49 1366.99,66.05 1374.32,62.38 1381.66,59.93 1396.34,58.71 1413.46,58.71 1450.16,58.71 1467.28,58.22 1474.62,55.04 1499.08,53.33 1506.42,51.86 1555.34,51.37 1625.3,51.37" fill="none" stroke="#7E2F8E" stroke-width="5.5" stroke-linejoin="round" stroke-linecap="round"/>
<text x="1481.2" y="420.8" text-anchor="middle" class="lb2">FPR</text>
<text transform="translate(1269.9,195.95) rotate(-90)" text-anchor="middle" class="lb2">TPR</text>
<text x="1480.5" y="38.9" text-anchor="middle" class="tt">PABA</text>
<text x="1343.6" y="329.2" class="pl">(i)</text>
<path d="M1335.7 799V794.6M1335.7 512V516.4M1350.11 799V796.4M1350.11 512V514.6M1364.51 799V796.4M1364.51 512V514.6M1378.91 799V796.4M1378.91 512V514.6M1393.32 799V794.6M1393.32 512V516.4M1407.72 799V796.4M1407.72 512V514.6M1422.13 799V796.4M1422.13 512V514.6M1436.54 799V796.4M1436.54 512V514.6M1450.94 799V794.6M1450.94 512V516.4M1465.35 799V796.4M1465.35 512V514.6M1479.75 799V796.4M1479.75 512V514.6M1494.15 799V796.4M1494.15 512V514.6M1508.56 799V794.6M1508.56 512V516.4M1522.96 799V796.4M1522.96 512V514.6M1537.37 799V796.4M1537.37 512V514.6M1551.78 799V796.4M1551.78 512V514.6M1566.18 799V794.6M1566.18 512V516.4M1580.59 799V796.4M1580.59 512V514.6M1594.99 799V796.4M1594.99 512V514.6M1609.39 799V796.4M1609.39 512V514.6M1623.8 799V794.6M1623.8 512V516.4M1335.7 799H1340.1M1623.8 799H1619.4M1335.7 784.65H1338.3M1623.8 784.65H1621.2M1335.7 770.3H1338.3M1623.8 770.3H1621.2M1335.7 755.95H1338.3M1623.8 755.95H1621.2M1335.7 741.6H1340.1M1623.8 741.6H1619.4M1335.7 727.25H1338.3M1623.8 727.25H1621.2M1335.7 712.9H1338.3M1623.8 712.9H1621.2M1335.7 698.55H1338.3M1623.8 698.55H1621.2M1335.7 684.2H1340.1M1623.8 684.2H1619.4M1335.7 669.85H1338.3M1623.8 669.85H1621.2M1335.7 655.5H1338.3M1623.8 655.5H1621.2M1335.7 641.15H1338.3M1623.8 641.15H1621.2M1335.7 626.8H1340.1M1623.8 626.8H1619.4M1335.7 612.45H1338.3M1623.8 612.45H1621.2M1335.7 598.1H1338.3M1623.8 598.1H1621.2M1335.7 583.75H1338.3M1623.8 583.75H1621.2M1335.7 569.4H1340.1M1623.8 569.4H1619.4M1335.7 555.05H1338.3M1623.8 555.05H1621.2M1335.7 540.7H1338.3M1623.8 540.7H1621.2M1335.7 526.35H1338.3M1623.8 526.35H1621.2M1335.7 512H1340.1M1623.8 512H1619.4" stroke="#262626" stroke-width="1.3" fill="none"/>
<rect x="1335.5" y="512.5" width="288" height="287" fill="none" stroke="#262626" stroke-width="1.3"/>
<text x="1335.7" y="839" text-anchor="middle" class="tk2">0</text>
<text x="1393.32" y="839" text-anchor="middle" class="tk2">0.2</text>
<text x="1450.94" y="839" text-anchor="middle" class="tk2">0.4</text>
<text x="1508.56" y="839" text-anchor="middle" class="tk2">0.6</text>
<text x="1566.18" y="839" text-anchor="middle" class="tk2">0.8</text>
<text x="1623.8" y="839" text-anchor="middle" class="tk2">1</text>
<text x="1326.2" y="811.3" text-anchor="end" class="tk2">0</text>
<text x="1326.2" y="753.9" text-anchor="end" class="tk2">0.2</text>
<text x="1326.2" y="696.5" text-anchor="end" class="tk2">0.4</text>
<text x="1326.2" y="639.1" text-anchor="end" class="tk2">0.6</text>
<text x="1326.2" y="581.7" text-anchor="end" class="tk2">0.8</text>
<text x="1326.2" y="524.3" text-anchor="end" class="tk2">1</text>
<polyline points="1337.63,799.04 1338.86,753.54 1340.08,692.39 1342.52,675.26 1344.97,641.02 1349.86,621.45 1352.31,606.77 1354.76,589.65 1359.65,582.31 1366.99,572.52 1371.88,570.08 1376.77,562.74 1381.66,557.85 1389,550.51 1396.34,546.84 1406.13,543.17 1411.02,539.5 1423.25,538.28 1430.59,535.83 1437.93,531.43 1464.83,530.94 1474.62,528.49 1499.08,526.05 1535.77,524.82 1545.56,519.93 1550.45,517.49 1567.57,516.75 1596.93,513.33 1623.84,511.86" fill="none" stroke="#77AC30" stroke-width="5.5" stroke-linejoin="round" stroke-linecap="round"/>
<polyline points="1335.68,799.04 1336.41,729.08 1337.63,655.69 1338.86,606.77 1340.08,570.08 1342.52,555.4 1347.42,550.51 1349.86,543.17 1357.2,535.83 1359.65,529.72 1366.99,528.49 1376.77,527.27 1384.11,524.82 1391.45,521.15 1401.23,519.93 1408.57,518.22 1425.69,517.49 1455.05,516.26 1462.39,515.04 1511.31,514.31 1516.2,512.59 1587.14,511.86 1623.84,511.86" fill="none" stroke="#7E2F8E" stroke-width="5.5" stroke-linejoin="round" stroke-linecap="round"/>
<text x="1480.45" y="879.8" text-anchor="middle" class="lb2">FPR</text>
<text transform="translate(1269.9,656) rotate(-90)" text-anchor="middle" class="lb2">TPR</text>
<text x="1479.75" y="500" text-anchor="middle" class="tt">PABA</text>
<text x="1343.6" y="781.9" class="pl">(j)</text>
<path d="M1336.7 1255.6V1251.2M1336.7 968.7V973.1M1351.06 1255.6V1253M1351.06 968.7V971.3M1365.41 1255.6V1253M1365.41 968.7V971.3M1379.77 1255.6V1253M1379.77 968.7V971.3M1394.12 1255.6V1251.2M1394.12 968.7V973.1M1408.47 1255.6V1253M1408.47 968.7V971.3M1422.83 1255.6V1253M1422.83 968.7V971.3M1437.18 1255.6V1253M1437.18 968.7V971.3M1451.54 1255.6V1251.2M1451.54 968.7V973.1M1465.89 1255.6V1253M1465.89 968.7V971.3M1480.25 1255.6V1253M1480.25 968.7V971.3M1494.61 1255.6V1253M1494.61 968.7V971.3M1508.96 1255.6V1251.2M1508.96 968.7V973.1M1523.32 1255.6V1253M1523.32 968.7V971.3M1537.67 1255.6V1253M1537.67 968.7V971.3M1552.03 1255.6V1253M1552.03 968.7V971.3M1566.38 1255.6V1251.2M1566.38 968.7V973.1M1580.73 1255.6V1253M1580.73 968.7V971.3M1595.09 1255.6V1253M1595.09 968.7V971.3M1609.44 1255.6V1253M1609.44 968.7V971.3M1623.8 1255.6V1251.2M1623.8 968.7V973.1M1336.7 1255.6H1341.1M1623.8 1255.6H1619.4M1336.7 1241.25H1339.3M1623.8 1241.25H1621.2M1336.7 1226.91H1339.3M1623.8 1226.91H1621.2M1336.7 1212.56H1339.3M1623.8 1212.56H1621.2M1336.7 1198.22H1341.1M1623.8 1198.22H1619.4M1336.7 1183.88H1339.3M1623.8 1183.88H1621.2M1336.7 1169.53H1339.3M1623.8 1169.53H1621.2M1336.7 1155.18H1339.3M1623.8 1155.18H1621.2M1336.7 1140.84H1341.1M1623.8 1140.84H1619.4M1336.7 1126.49H1339.3M1623.8 1126.49H1621.2M1336.7 1112.15H1339.3M1623.8 1112.15H1621.2M1336.7 1097.81H1339.3M1623.8 1097.81H1621.2M1336.7 1083.46H1341.1M1623.8 1083.46H1619.4M1336.7 1069.12H1339.3M1623.8 1069.12H1621.2M1336.7 1054.77H1339.3M1623.8 1054.77H1621.2M1336.7 1040.42H1339.3M1623.8 1040.42H1621.2M1336.7 1026.08H1341.1M1623.8 1026.08H1619.4M1336.7 1011.74H1339.3M1623.8 1011.74H1621.2M1336.7 997.39H1339.3M1623.8 997.39H1621.2M1336.7 983.05H1339.3M1623.8 983.05H1621.2M1336.7 968.7H1341.1M1623.8 968.7H1619.4" stroke="#262626" stroke-width="1.3" fill="none"/>
<rect x="1336.5" y="968.5" width="287" height="287" fill="none" stroke="#262626" stroke-width="1.3"/>
<text x="1336.7" y="1295.6" text-anchor="middle" class="tk2">0</text>
<text x="1394.12" y="1295.6" text-anchor="middle" class="tk2">0.2</text>
<text x="1451.54" y="1295.6" text-anchor="middle" class="tk2">0.4</text>
<text x="1508.96" y="1295.6" text-anchor="middle" class="tk2">0.6</text>
<text x="1566.38" y="1295.6" text-anchor="middle" class="tk2">0.8</text>
<text x="1623.8" y="1295.6" text-anchor="middle" class="tk2">1</text>
<text x="1327.2" y="1267.9" text-anchor="end" class="tk2">0</text>
<text x="1327.2" y="1210.52" text-anchor="end" class="tk2">0.2</text>
<text x="1327.2" y="1153.14" text-anchor="end" class="tk2">0.4</text>
<text x="1327.2" y="1095.76" text-anchor="end" class="tk2">0.6</text>
<text x="1327.2" y="1038.38" text-anchor="end" class="tk2">0.8</text>
<text x="1327.2" y="981" text-anchor="end" class="tk2">1</text>
<polyline points="1337.63,1255.65 1338.86,1179.08 1340.08,1130.16 1342.52,1081.23 1344.97,1044.54 1347.42,1027.42 1349.86,1015.19 1351.09,1005.4 1354.76,1002.95 1357.2,995.62 1362.09,990.72 1366.99,985.83 1371.88,980.94 1381.66,978.98 1396.34,978.49 1415.91,976.05 1437.93,973.6 1474.62,972.38 1494.19,971.64 1523.54,969.93 1623.84,968.71" fill="none" stroke="#77AC30" stroke-width="5.5" stroke-linejoin="round" stroke-linecap="round"/>
<polyline points="1336.65,1255.65 1337.14,1154.62 1337.63,1081.23 1338.86,1032.31 1340.08,1007.85 1341.3,990.72 1344.97,988.28 1349.86,983.39 1354.76,978.49 1359.65,976.05 1362.09,974.09 1376.77,974.09 1386.56,972.38 1401.23,971.64 1413.46,971.15 1450.16,969.93 1455.05,968.22 1623.84,968.71" fill="none" stroke="#7E2F8E" stroke-width="5.5" stroke-linejoin="round" stroke-linecap="round"/>
<text x="1480.95" y="1336.4" text-anchor="middle" class="lb2">FPR</text>
<text transform="translate(1270.9,1112.65) rotate(-90)" text-anchor="middle" class="lb2">TPR</text>
<text x="1480.25" y="956.7" text-anchor="middle" class="tt">PABA</text>
<text x="1343.6" y="1239.2" class="pl">(k)</text>
<path d="M1335.7 1705.9V1701.5M1335.7 1418.4V1422.8M1350.11 1705.9V1703.3M1350.11 1418.4V1421M1364.51 1705.9V1703.3M1364.51 1418.4V1421M1378.91 1705.9V1703.3M1378.91 1418.4V1421M1393.32 1705.9V1701.5M1393.32 1418.4V1422.8M1407.72 1705.9V1703.3M1407.72 1418.4V1421M1422.13 1705.9V1703.3M1422.13 1418.4V1421M1436.54 1705.9V1703.3M1436.54 1418.4V1421M1450.94 1705.9V1701.5M1450.94 1418.4V1422.8M1465.35 1705.9V1703.3M1465.35 1418.4V1421M1479.75 1705.9V1703.3M1479.75 1418.4V1421M1494.15 1705.9V1703.3M1494.15 1418.4V1421M1508.56 1705.9V1701.5M1508.56 1418.4V1422.8M1522.96 1705.9V1703.3M1522.96 1418.4V1421M1537.37 1705.9V1703.3M1537.37 1418.4V1421M1551.78 1705.9V1703.3M1551.78 1418.4V1421M1566.18 1705.9V1701.5M1566.18 1418.4V1422.8M1580.59 1705.9V1703.3M1580.59 1418.4V1421M1594.99 1705.9V1703.3M1594.99 1418.4V1421M1609.39 1705.9V1703.3M1609.39 1418.4V1421M1623.8 1705.9V1701.5M1623.8 1418.4V1422.8M1335.7 1705.9H1340.1M1623.8 1705.9H1619.4M1335.7 1691.53H1338.3M1623.8 1691.53H1621.2M1335.7 1677.15H1338.3M1623.8 1677.15H1621.2M1335.7 1662.78H1338.3M1623.8 1662.78H1621.2M1335.7 1648.4H1340.1M1623.8 1648.4H1619.4M1335.7 1634.03H1338.3M1623.8 1634.03H1621.2M1335.7 1619.65H1338.3M1623.8 1619.65H1621.2M1335.7 1605.28H1338.3M1623.8 1605.28H1621.2M1335.7 1590.9H1340.1M1623.8 1590.9H1619.4M1335.7 1576.53H1338.3M1623.8 1576.53H1621.2M1335.7 1562.15H1338.3M1623.8 1562.15H1621.2M1335.7 1547.78H1338.3M1623.8 1547.78H1621.2M1335.7 1533.4H1340.1M1623.8 1533.4H1619.4M1335.7 1519.03H1338.3M1623.8 1519.03H1621.2M1335.7 1504.65H1338.3M1623.8 1504.65H1621.2M1335.7 1490.28H1338.3M1623.8 1490.28H1621.2M1335.7 1475.9H1340.1M1623.8 1475.9H1619.4M1335.7 1461.53H1338.3M1623.8 1461.53H1621.2M1335.7 1447.15H1338.3M1623.8 1447.15H1621.2M1335.7 1432.78H1338.3M1623.8 1432.78H1621.2M1335.7 1418.4H1340.1M1623.8 1418.4H1619.4" stroke="#262626" stroke-width="1.3" fill="none"/>
<rect x="1335.5" y="1418.5" width="288" height="287" fill="none" stroke="#262626" stroke-width="1.3"/>
<text x="1335.7" y="1745.9" text-anchor="middle" class="tk2">0</text>
<text x="1393.32" y="1745.9" text-anchor="middle" class="tk2">0.2</text>
<text x="1450.94" y="1745.9" text-anchor="middle" class="tk2">0.4</text>
<text x="1508.56" y="1745.9" text-anchor="middle" class="tk2">0.6</text>
<text x="1566.18" y="1745.9" text-anchor="middle" class="tk2">0.8</text>
<text x="1623.8" y="1745.9" text-anchor="middle" class="tk2">1</text>
<text x="1326.2" y="1718.2" text-anchor="end" class="tk2">0</text>
<text x="1326.2" y="1660.7" text-anchor="end" class="tk2">0.2</text>
<text x="1326.2" y="1603.2" text-anchor="end" class="tk2">0.4</text>
<text x="1326.2" y="1545.7" text-anchor="end" class="tk2">0.6</text>
<text x="1326.2" y="1488.2" text-anchor="end" class="tk2">0.8</text>
<text x="1326.2" y="1430.7" text-anchor="end" class="tk2">1</text>
<polyline points="1337.14,1705.87 1338.12,1628.08 1338.86,1579.16 1340.08,1549.8 1342.52,1530.23 1344.97,1505.77 1347.42,1481.31 1349.86,1469.08 1354.76,1456.85 1359.65,1450.73 1364.54,1450.73 1371.88,1444.62 1376.77,1439.72 1379.22,1436.05 1391.45,1436.05 1398.79,1431.16 1425.69,1430.43 1442.82,1429.94 1450.16,1427.49 1474.62,1426.27 1484.4,1423.82 1523.54,1422.6 1533.33,1420.15 1623.84,1418.44" fill="none" stroke="#77AC30" stroke-width="5.5" stroke-linejoin="round" stroke-linecap="round"/>
<polyline points="1335.68,1705.87 1336.41,1628.08 1337.14,1554.69 1337.63,1510.66 1338.86,1481.31 1340.08,1451.95 1344.97,1447.06 1348.64,1442.17 1349.86,1432.39 1354.76,1428.72 1362.09,1426.27 1371.88,1423.82 1386.56,1423.09 1401.23,1421.38 1433.03,1420.15 1479.51,1418.93 1623.84,1418.44" fill="none" stroke="#7E2F8E" stroke-width="5.5" stroke-linejoin="round" stroke-linecap="round"/>
<text x="1480.45" y="1786.7" text-anchor="middle" class="lb2">FPR</text>
<text transform="translate(1269.9,1562.65) rotate(-90)" text-anchor="middle" class="lb2">TPR</text>
<text x="1479.75" y="1406.4" text-anchor="middle" class="tt">PABA</text>
<text x="1343.6" y="1687" class="pl">(l)</text>
<path d="M1731 341.5V337.1M1731 52V56.4M1745.55 341.5V338.9M1745.55 52V54.6M1760.1 341.5V338.9M1760.1 52V54.6M1774.65 341.5V338.9M1774.65 52V54.6M1789.2 341.5V337.1M1789.2 52V56.4M1803.75 341.5V338.9M1803.75 52V54.6M1818.3 341.5V338.9M1818.3 52V54.6M1832.85 341.5V338.9M1832.85 52V54.6M1847.4 341.5V337.1M1847.4 52V56.4M1861.95 341.5V338.9M1861.95 52V54.6M1876.5 341.5V338.9M1876.5 52V54.6M1891.05 341.5V338.9M1891.05 52V54.6M1905.6 341.5V337.1M1905.6 52V56.4M1920.15 341.5V338.9M1920.15 52V54.6M1934.7 341.5V338.9M1934.7 52V54.6M1949.25 341.5V338.9M1949.25 52V54.6M1963.8 341.5V337.1M1963.8 52V56.4M1978.35 341.5V338.9M1978.35 52V54.6M1992.9 341.5V338.9M1992.9 52V54.6M2007.45 341.5V338.9M2007.45 52V54.6M2022 341.5V337.1M2022 52V56.4M1731 341.5H1735.4M2022 341.5H2017.6M1731 327.02H1733.6M2022 327.02H2019.4M1731 312.55H1733.6M2022 312.55H2019.4M1731 298.07H1733.6M2022 298.07H2019.4M1731 283.6H1735.4M2022 283.6H2017.6M1731 269.12H1733.6M2022 269.12H2019.4M1731 254.65H1733.6M2022 254.65H2019.4M1731 240.18H1733.6M2022 240.18H2019.4M1731 225.7H1735.4M2022 225.7H2017.6M1731 211.22H1733.6M2022 211.22H2019.4M1731 196.75H1733.6M2022 196.75H2019.4M1731 182.27H1733.6M2022 182.27H2019.4M1731 167.8H1735.4M2022 167.8H2017.6M1731 153.32H1733.6M2022 153.32H2019.4M1731 138.85H1733.6M2022 138.85H2019.4M1731 124.38H1733.6M2022 124.38H2019.4M1731 109.9H1735.4M2022 109.9H2017.6M1731 95.42H1733.6M2022 95.42H2019.4M1731 80.95H1733.6M2022 80.95H2019.4M1731 66.47H1733.6M2022 66.47H2019.4M1731 52H1735.4M2022 52H2017.6" stroke="#262626" stroke-width="1.3" fill="none"/>
<rect x="1731.5" y="52.5" width="291" height="289" fill="none" stroke="#262626" stroke-width="1.3"/>
<text x="1731" y="381.5" text-anchor="middle" class="tk2">0</text>
<text x="1789.2" y="381.5" text-anchor="middle" class="tk2">0.2</text>
<text x="1847.4" y="381.5" text-anchor="middle" class="tk2">0.4</text>
<text x="1905.6" y="381.5" text-anchor="middle" class="tk2">0.6</text>
<text x="1963.8" y="381.5" text-anchor="middle" class="tk2">0.8</text>
<text x="2022" y="381.5" text-anchor="middle" class="tk2">1</text>
<text x="1721.5" y="353.8" text-anchor="end" class="tk2">0</text>
<text x="1721.5" y="295.9" text-anchor="end" class="tk2">0.2</text>
<text x="1721.5" y="238" text-anchor="end" class="tk2">0.4</text>
<text x="1721.5" y="180.1" text-anchor="end" class="tk2">0.6</text>
<text x="1721.5" y="122.2" text-anchor="end" class="tk2">0.8</text>
<text x="1721.5" y="64.3" text-anchor="end" class="tk2">1</text>
<polyline points="1732.3,341.49 1733.52,325.34 1735.97,310.67 1738.42,298.43 1740.86,288.65 1745.76,281.31 1748.2,269.08 1750.65,264.19 1753.09,249.51 1757.99,239.73 1760.43,227.5 1762.88,215.26 1767.77,210.37 1772.66,203.03 1775.11,195.69 1780,188.36 1789.79,178.57 1797.13,171.23 1804.46,156.56 1809.36,146.77 1819.14,139.43 1824.03,134.54 1828.93,127.2 1836.26,122.31 1841.16,114.97 1848.5,111.3 1855.83,107.63 1865.62,100.29 1875.4,94.18 1885.19,91.73 1892.53,88.06 1899.86,81.95 1914.54,75.83 1929.22,68.49 1939,64.82 1951.23,61.15 1963.47,57.49 1975.7,55.04 2000.16,52.59 2022.17,51.86" fill="none" stroke="#77AC30" stroke-width="5.5" stroke-linejoin="round" stroke-linecap="round"/>
<polyline points="1731.08,341.49 1731.57,315.56 1733.52,303.33 1735.97,293.54 1738.42,269.08 1740.86,220.16 1743.31,195.69 1745.76,159 1748.2,151.66 1750.65,136.99 1753.09,122.31 1755.54,114.97 1757.99,107.63 1762.88,102.74 1765.32,97.85 1767.77,92.95 1772.66,83.17 1777.56,77.05 1782.45,74.61 1792.23,69.72 1802.02,65.56 1816.69,64.09 1824.03,61.15 1836.26,59.44 1865.62,58.71 1914.54,57.49 1963.47,54.31 2000.16,52.59 2022.17,51.86" fill="none" stroke="#7E2F8E" stroke-width="5.5" stroke-linejoin="round" stroke-linecap="round"/>
<text x="1877.2" y="422.3" text-anchor="middle" class="lb2">FPR</text>
<text transform="translate(1665.2,197.25) rotate(-90)" text-anchor="middle" class="lb2">TPR</text>
<text x="1876.5" y="40" text-anchor="middle" class="tt">HDPE</text>
<text x="1746.8" y="329.2" class="pl">(m)</text>
<path d="M1732.3 799V794.6M1732.3 512V516.4M1746.74 799V796.4M1746.74 512V514.6M1761.19 799V796.4M1761.19 512V514.6M1775.63 799V796.4M1775.63 512V514.6M1790.08 799V794.6M1790.08 512V516.4M1804.53 799V796.4M1804.53 512V514.6M1818.97 799V796.4M1818.97 512V514.6M1833.41 799V796.4M1833.41 512V514.6M1847.86 799V794.6M1847.86 512V516.4M1862.31 799V796.4M1862.31 512V514.6M1876.75 799V796.4M1876.75 512V514.6M1891.19 799V796.4M1891.19 512V514.6M1905.64 799V794.6M1905.64 512V516.4M1920.09 799V796.4M1920.09 512V514.6M1934.53 799V796.4M1934.53 512V514.6M1948.97 799V796.4M1948.97 512V514.6M1963.42 799V794.6M1963.42 512V516.4M1977.87 799V796.4M1977.87 512V514.6M1992.31 799V796.4M1992.31 512V514.6M2006.76 799V796.4M2006.76 512V514.6M2021.2 799V794.6M2021.2 512V516.4M1732.3 799H1736.7M2021.2 799H2016.8M1732.3 784.65H1734.9M2021.2 784.65H2018.6M1732.3 770.3H1734.9M2021.2 770.3H2018.6M1732.3 755.95H1734.9M2021.2 755.95H2018.6M1732.3 741.6H1736.7M2021.2 741.6H2016.8M1732.3 727.25H1734.9M2021.2 727.25H2018.6M1732.3 712.9H1734.9M2021.2 712.9H2018.6M1732.3 698.55H1734.9M2021.2 698.55H2018.6M1732.3 684.2H1736.7M2021.2 684.2H2016.8M1732.3 669.85H1734.9M2021.2 669.85H2018.6M1732.3 655.5H1734.9M2021.2 655.5H2018.6M1732.3 641.15H1734.9M2021.2 641.15H2018.6M1732.3 626.8H1736.7M2021.2 626.8H2016.8M1732.3 612.45H1734.9M2021.2 612.45H2018.6M1732.3 598.1H1734.9M2021.2 598.1H2018.6M1732.3 583.75H1734.9M2021.2 583.75H2018.6M1732.3 569.4H1736.7M2021.2 569.4H2016.8M1732.3 555.05H1734.9M2021.2 555.05H2018.6M1732.3 540.7H1734.9M2021.2 540.7H2018.6M1732.3 526.35H1734.9M2021.2 526.35H2018.6M1732.3 512H1736.7M2021.2 512H2016.8" stroke="#262626" stroke-width="1.3" fill="none"/>
<rect x="1732.5" y="512.5" width="289" height="287" fill="none" stroke="#262626" stroke-width="1.3"/>
<text x="1732.3" y="839" text-anchor="middle" class="tk2">0</text>
<text x="1790.08" y="839" text-anchor="middle" class="tk2">0.2</text>
<text x="1847.86" y="839" text-anchor="middle" class="tk2">0.4</text>
<text x="1905.64" y="839" text-anchor="middle" class="tk2">0.6</text>
<text x="1963.42" y="839" text-anchor="middle" class="tk2">0.8</text>
<text x="2021.2" y="839" text-anchor="middle" class="tk2">1</text>
<text x="1722.8" y="811.3" text-anchor="end" class="tk2">0</text>
<text x="1722.8" y="753.9" text-anchor="end" class="tk2">0.2</text>
<text x="1722.8" y="696.5" text-anchor="end" class="tk2">0.4</text>
<text x="1722.8" y="639.1" text-anchor="end" class="tk2">0.6</text>
<text x="1722.8" y="581.7" text-anchor="end" class="tk2">0.8</text>
<text x="1722.8" y="524.3" text-anchor="end" class="tk2">1</text>
<polyline points="1733.52,799.04 1738.42,782.9 1740.86,768.22 1745.76,763.33 1750.65,758.43 1757.99,741.31 1760.43,729.08 1767.77,719.3 1772.66,707.06 1780,699.73 1787.34,689.94 1789.79,677.71 1799.57,670.37 1811.8,660.59 1816.69,650.8 1826.48,641.02 1828.93,633.68 1841.16,623.89 1853.39,616.56 1863.17,606.77 1875.4,599.43 1885.19,593.32 1904.76,582.31 1909.65,574.97 1919.43,568.86 1929.22,567.63 1934.11,560.29 1939,555.4 1951.23,548.06 1963.47,541.95 1973.25,535.83 1983.04,533.39 1990.37,526.05 2002.6,521.15 2012.39,516.26 2021.2,511.86" fill="none" stroke="#77AC30" stroke-width="5.5" stroke-linejoin="round" stroke-linecap="round"/>
<polyline points="1732.3,799.04 1732.79,753.54 1735.97,716.85 1737.19,680.16 1738.42,648.36 1740.86,626.34 1742.09,596.99 1743.31,574.97 1745.76,562.74 1750.65,555.4 1755.54,545.62 1757.99,540.72 1767.77,537.05 1777.56,532.16 1792.23,527.27 1806.91,524.82 1824.03,522.38 1841.16,520.67 1865.62,518.71 1890.08,516.75 1939,515.04 1987.93,513.82 2021.2,511.86" fill="none" stroke="#7E2F8E" stroke-width="5.5" stroke-linejoin="round" stroke-linecap="round"/>
<text x="1877.45" y="879.8" text-anchor="middle" class="lb2">FPR</text>
<text transform="translate(1666.5,656) rotate(-90)" text-anchor="middle" class="lb2">TPR</text>
<text x="1876.75" y="500" text-anchor="middle" class="tt">HDPE</text>
<text x="1746.8" y="781.9" class="pl">(n)</text>
<path d="M1731 1255V1250.6M1731 966.3V970.7M1745.55 1255V1252.4M1745.55 966.3V968.9M1760.1 1255V1252.4M1760.1 966.3V968.9M1774.65 1255V1252.4M1774.65 966.3V968.9M1789.2 1255V1250.6M1789.2 966.3V970.7M1803.75 1255V1252.4M1803.75 966.3V968.9M1818.3 1255V1252.4M1818.3 966.3V968.9M1832.85 1255V1252.4M1832.85 966.3V968.9M1847.4 1255V1250.6M1847.4 966.3V970.7M1861.95 1255V1252.4M1861.95 966.3V968.9M1876.5 1255V1252.4M1876.5 966.3V968.9M1891.05 1255V1252.4M1891.05 966.3V968.9M1905.6 1255V1250.6M1905.6 966.3V970.7M1920.15 1255V1252.4M1920.15 966.3V968.9M1934.7 1255V1252.4M1934.7 966.3V968.9M1949.25 1255V1252.4M1949.25 966.3V968.9M1963.8 1255V1250.6M1963.8 966.3V970.7M1978.35 1255V1252.4M1978.35 966.3V968.9M1992.9 1255V1252.4M1992.9 966.3V968.9M2007.45 1255V1252.4M2007.45 966.3V968.9M2022 1255V1250.6M2022 966.3V970.7M1731 1255H1735.4M2022 1255H2017.6M1731 1240.57H1733.6M2022 1240.57H2019.4M1731 1226.13H1733.6M2022 1226.13H2019.4M1731 1211.69H1733.6M2022 1211.69H2019.4M1731 1197.26H1735.4M2022 1197.26H2017.6M1731 1182.83H1733.6M2022 1182.83H2019.4M1731 1168.39H1733.6M2022 1168.39H2019.4M1731 1153.95H1733.6M2022 1153.95H2019.4M1731 1139.52H1735.4M2022 1139.52H2017.6M1731 1125.09H1733.6M2022 1125.09H2019.4M1731 1110.65H1733.6M2022 1110.65H2019.4M1731 1096.21H1733.6M2022 1096.21H2019.4M1731 1081.78H1735.4M2022 1081.78H2017.6M1731 1067.35H1733.6M2022 1067.35H2019.4M1731 1052.91H1733.6M2022 1052.91H2019.4M1731 1038.47H1733.6M2022 1038.47H2019.4M1731 1024.04H1735.4M2022 1024.04H2017.6M1731 1009.6H1733.6M2022 1009.6H2019.4M1731 995.17H1733.6M2022 995.17H2019.4M1731 980.73H1733.6M2022 980.73H2019.4M1731 966.3H1735.4M2022 966.3H2017.6" stroke="#262626" stroke-width="1.3" fill="none"/>
<rect x="1731.5" y="966.5" width="291" height="289" fill="none" stroke="#262626" stroke-width="1.3"/>
<text x="1731" y="1295" text-anchor="middle" class="tk2">0</text>
<text x="1789.2" y="1295" text-anchor="middle" class="tk2">0.2</text>
<text x="1847.4" y="1295" text-anchor="middle" class="tk2">0.4</text>
<text x="1905.6" y="1295" text-anchor="middle" class="tk2">0.6</text>
<text x="1963.8" y="1295" text-anchor="middle" class="tk2">0.8</text>
<text x="2022" y="1295" text-anchor="middle" class="tk2">1</text>
<text x="1721.5" y="1267.3" text-anchor="end" class="tk2">0</text>
<text x="1721.5" y="1209.56" text-anchor="end" class="tk2">0.2</text>
<text x="1721.5" y="1151.82" text-anchor="end" class="tk2">0.4</text>
<text x="1721.5" y="1094.08" text-anchor="end" class="tk2">0.6</text>
<text x="1721.5" y="1036.34" text-anchor="end" class="tk2">0.8</text>
<text x="1721.5" y="978.6" text-anchor="end" class="tk2">1</text>
<polyline points="1732.3,1254.91 1735.97,1237.79 1738.42,1228 1740.86,1203.54 1743.31,1196.2 1748.2,1186.42 1749.42,1169.3 1755.54,1161.96 1762.88,1154.62 1765.32,1147.28 1767.77,1135.05 1770.22,1125.26 1772.66,1117.93 1782.45,1110.59 1787.34,1098.36 1792.23,1088.57 1799.57,1083.68 1814.25,1078.79 1821.59,1071.45 1831.37,1064.11 1841.16,1059.22 1855.83,1049.43 1870.51,1040.87 1882.74,1032.31 1897.42,1022.52 1902.31,1018.86 1914.54,1010.29 1926.77,1004.18 1939,999.29 1953.68,994.39 1961.02,990.72 1968.36,983.39 1975.7,978.49 1987.93,974.82 2002.6,971.15 2012.39,967.49 2022.17,966.26" fill="none" stroke="#77AC30" stroke-width="5.5" stroke-linejoin="round" stroke-linecap="round"/>
<polyline points="1731.08,1254.91 1731.57,1179.08 1732.3,1142.39 1733.04,1095.91 1733.52,1056.77 1734.75,1032.31 1735.97,1015.19 1737.19,1002.95 1740.86,1002.95 1745.76,995.62 1748.2,990.72 1755.54,983.39 1765.32,977.27 1777.56,975.56 1787.34,974.09 1797.13,971.15 1816.69,969.93 1841.16,967.97 1914.54,966.75 2022.17,966.26" fill="none" stroke="#7E2F8E" stroke-width="5.5" stroke-linejoin="round" stroke-linecap="round"/>
<text x="1877.2" y="1335.8" text-anchor="middle" class="lb2">FPR</text>
<text transform="translate(1665.2,1111.15) rotate(-90)" text-anchor="middle" class="lb2">TPR</text>
<text x="1876.5" y="954.3" text-anchor="middle" class="tt">HDPE</text>
<text x="1746.3" y="1239.2" class="pl">(o)</text>
<path d="M1733 1705.1V1700.7M1733 1418.4V1422.8M1747.34 1705.1V1702.5M1747.34 1418.4V1421M1761.67 1705.1V1702.5M1761.67 1418.4V1421M1776.01 1705.1V1702.5M1776.01 1418.4V1421M1790.34 1705.1V1700.7M1790.34 1418.4V1422.8M1804.67 1705.1V1702.5M1804.67 1418.4V1421M1819.01 1705.1V1702.5M1819.01 1418.4V1421M1833.35 1705.1V1702.5M1833.35 1418.4V1421M1847.68 1705.1V1700.7M1847.68 1418.4V1422.8M1862.02 1705.1V1702.5M1862.02 1418.4V1421M1876.35 1705.1V1702.5M1876.35 1418.4V1421M1890.68 1705.1V1702.5M1890.68 1418.4V1421M1905.02 1705.1V1700.7M1905.02 1418.4V1422.8M1919.36 1705.1V1702.5M1919.36 1418.4V1421M1933.69 1705.1V1702.5M1933.69 1418.4V1421M1948.03 1705.1V1702.5M1948.03 1418.4V1421M1962.36 1705.1V1700.7M1962.36 1418.4V1422.8M1976.7 1705.1V1702.5M1976.7 1418.4V1421M1991.03 1705.1V1702.5M1991.03 1418.4V1421M2005.37 1705.1V1702.5M2005.37 1418.4V1421M2019.7 1705.1V1700.7M2019.7 1418.4V1422.8M1733 1705.1H1737.4M2019.7 1705.1H2015.3M1733 1690.76H1735.6M2019.7 1690.76H2017.1M1733 1676.43H1735.6M2019.7 1676.43H2017.1M1733 1662.1H1735.6M2019.7 1662.1H2017.1M1733 1647.76H1737.4M2019.7 1647.76H2015.3M1733 1633.42H1735.6M2019.7 1633.42H2017.1M1733 1619.09H1735.6M2019.7 1619.09H2017.1M1733 1604.75H1735.6M2019.7 1604.75H2017.1M1733 1590.42H1737.4M2019.7 1590.42H2015.3M1733 1576.09H1735.6M2019.7 1576.09H2017.1M1733 1561.75H1735.6M2019.7 1561.75H2017.1M1733 1547.41H1735.6M2019.7 1547.41H2017.1M1733 1533.08H1737.4M2019.7 1533.08H2015.3M1733 1518.75H1735.6M2019.7 1518.75H2017.1M1733 1504.41H1735.6M2019.7 1504.41H2017.1M1733 1490.08H1735.6M2019.7 1490.08H2017.1M1733 1475.74H1737.4M2019.7 1475.74H2015.3M1733 1461.4H1735.6M2019.7 1461.4H2017.1M1733 1447.07H1735.6M2019.7 1447.07H2017.1M1733 1432.74H1735.6M2019.7 1432.74H2017.1M1733 1418.4H1737.4M2019.7 1418.4H2015.3" stroke="#262626" stroke-width="1.3" fill="none"/>
<rect x="1733.5" y="1418.5" width="286" height="287" fill="none" stroke="#262626" stroke-width="1.3"/>
<text x="1733" y="1745.1" text-anchor="middle" class="tk2">0</text>
<text x="1790.34" y="1745.1" text-anchor="middle" class="tk2">0.2</text>
<text x="1847.68" y="1745.1" text-anchor="middle" class="tk2">0.4</text>
<text x="1905.02" y="1745.1" text-anchor="middle" class="tk2">0.6</text>
<text x="1962.36" y="1745.1" text-anchor="middle" class="tk2">0.8</text>
<text x="2019.7" y="1745.1" text-anchor="middle" class="tk2">1</text>
<text x="1723.5" y="1717.4" text-anchor="end" class="tk2">0</text>
<text x="1723.5" y="1660.06" text-anchor="end" class="tk2">0.2</text>
<text x="1723.5" y="1602.72" text-anchor="end" class="tk2">0.4</text>
<text x="1723.5" y="1545.38" text-anchor="end" class="tk2">0.6</text>
<text x="1723.5" y="1488.04" text-anchor="end" class="tk2">0.8</text>
<text x="1723.5" y="1430.7" text-anchor="end" class="tk2">1</text>
<polyline points="1734.01,1705.14 1735.97,1694.13 1738.42,1674.56 1743.31,1664.77 1748.2,1652.54 1753.09,1637.86 1755.54,1630.53 1762.88,1625.63 1767.77,1615.85 1775.11,1606.06 1782.45,1598.73 1789.79,1591.39 1794.68,1584.05 1802.02,1574.26 1806.91,1566.93 1814.25,1562.03 1828.93,1554.69 1841.16,1547.36 1850.94,1540.02 1865.62,1530.23 1875.4,1525.34 1885.19,1515.56 1890.08,1508.22 1899.86,1500.88 1914.54,1493.54 1921.88,1486.2 1934.11,1473.97 1943.9,1466.63 1953.68,1456.85 1963.47,1451.95 1975.7,1442.17 1983.04,1432.39 1992.82,1426.27 2002.6,1423.82 2012.39,1421.38 2019.73,1418.93" fill="none" stroke="#77AC30" stroke-width="5.5" stroke-linejoin="round" stroke-linecap="round"/>
<polyline points="1733.04,1705.14 1733.52,1603.62 1734.01,1549.8 1734.75,1510.66 1737.19,1505.77 1738.42,1476.42 1740.86,1461.74 1743.31,1456.85 1748.2,1451.95 1753.09,1447.06 1760.43,1442.17 1767.77,1438.5 1777.56,1436.05 1787.34,1433.61 1797.13,1432.39 1806.91,1428.72 1816.69,1427.49 1836.26,1426.27 1853.39,1423.82 1865.62,1423.09 1890.08,1420.15 1963.47,1418.93 2019.73,1418.44" fill="none" stroke="#7E2F8E" stroke-width="5.5" stroke-linejoin="round" stroke-linecap="round"/>
<text x="1877.05" y="1785.9" text-anchor="middle" class="lb2">FPR</text>
<text transform="translate(1667.2,1562.25) rotate(-90)" text-anchor="middle" class="lb2">TPR</text>
<text x="1876.35" y="1406.4" text-anchor="middle" class="tt">HDPE</text>
<text x="1746.3" y="1688.2" class="pl">(p)</text>
</svg>
</body></html>
